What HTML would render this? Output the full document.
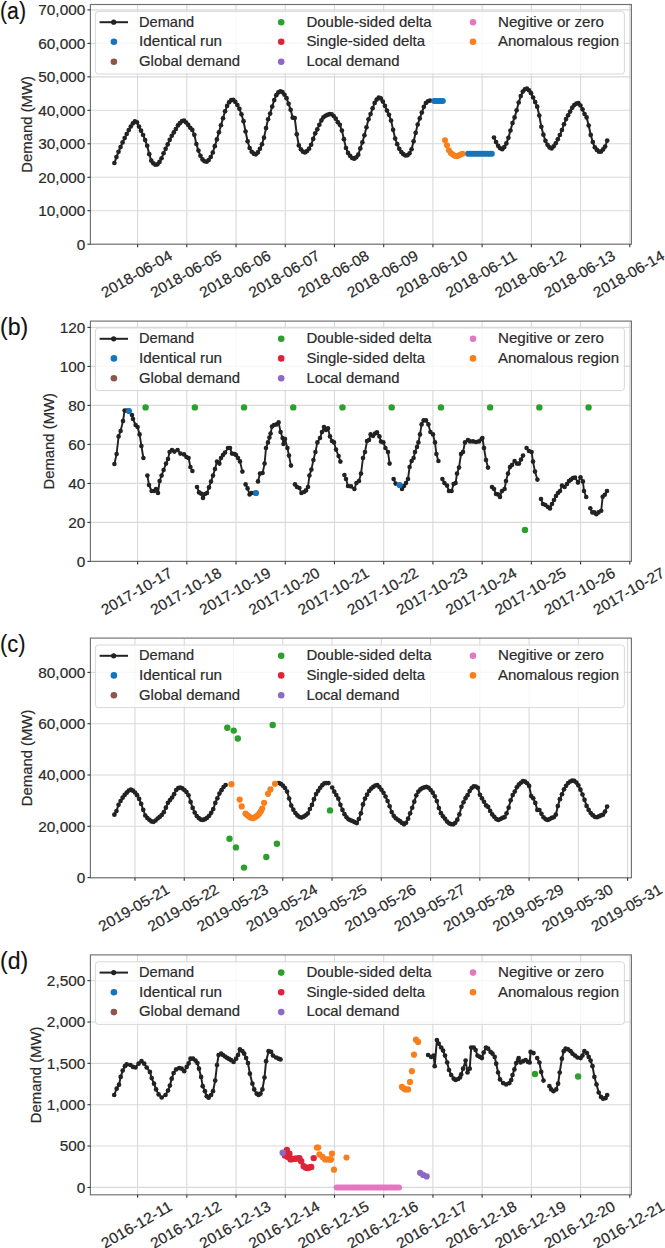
<!DOCTYPE html>
<html><head><meta charset="utf-8"><style>
html,body{margin:0;padding:0;background:#fff;overflow:hidden;width:665px;height:1248px;}
svg{display:block;}
</style></head><body>
<svg width="665" height="1248" viewBox="0 0 665 1248">
<rect width="665" height="1248" fill="#fff"/>
<g stroke="#d9d9d9" stroke-width="1.1">
<line x1="137.6" y1="4.5" x2="137.6" y2="244.2"/>
<line x1="186.82" y1="4.5" x2="186.82" y2="244.2"/>
<line x1="236.04" y1="4.5" x2="236.04" y2="244.2"/>
<line x1="285.26" y1="4.5" x2="285.26" y2="244.2"/>
<line x1="334.48" y1="4.5" x2="334.48" y2="244.2"/>
<line x1="383.7" y1="4.5" x2="383.7" y2="244.2"/>
<line x1="432.92" y1="4.5" x2="432.92" y2="244.2"/>
<line x1="482.14" y1="4.5" x2="482.14" y2="244.2"/>
<line x1="531.36" y1="4.5" x2="531.36" y2="244.2"/>
<line x1="580.58" y1="4.5" x2="580.58" y2="244.2"/>
<line x1="629.8" y1="4.5" x2="629.8" y2="244.2"/>
<line x1="90.4" y1="244.2" x2="631.4" y2="244.2"/>
<line x1="90.4" y1="210.73" x2="631.4" y2="210.73"/>
<line x1="90.4" y1="177.26" x2="631.4" y2="177.26"/>
<line x1="90.4" y1="143.79" x2="631.4" y2="143.79"/>
<line x1="90.4" y1="110.32" x2="631.4" y2="110.32"/>
<line x1="90.4" y1="76.85" x2="631.4" y2="76.85"/>
<line x1="90.4" y1="43.38" x2="631.4" y2="43.38"/>
<line x1="90.4" y1="9.91" x2="631.4" y2="9.91"/>
</g>
<polyline points="114.4,163 116.45,157.11 118.5,151.79 120.55,147.07 122.6,142.44 124.65,138.11 126.7,134 128.75,130.06 130.79,126.49 132.84,123.39 134.89,121.43 136.94,122.34 138.99,126.58 141.04,130.68 143.09,134.98 145.14,140.1 147.19,145.77 149.24,154.2 151.29,160.65 153.34,163.34 155.39,164.75 157.44,164.35 159.49,161.91 161.54,158.24 163.58,153.26 165.63,148.81 167.68,144.38 169.73,139.8 171.78,135.76 173.83,132.46 175.88,129.04 177.93,125.4 179.98,123.03 182.03,121.19 184.08,120.66 186.13,122.5 188.18,124.97 190.23,127.77 192.28,129.95 194.32,134.81 196.37,144 198.42,150.6 200.47,155.81 202.52,159.4 204.57,161.24 206.62,161.74 208.67,160.06 210.72,156.99 212.77,152.55 214.82,146.16 216.87,139.45 218.92,132.36 220.97,125.23 223.02,118.25 225.06,111.28 227.11,105.95 229.16,102.17 231.21,100.16 233.26,99.92 235.31,101.89 237.36,105 239.41,108.79 241.46,114.28 243.51,121.22 245.56,131.48 247.61,141.31 249.66,148.01 251.71,151.77 253.76,153.64 255.81,154.28 257.85,152.46 259.9,148.84 261.95,144.31 264,137.66 266.05,128.1 268.1,119.23 270.15,113.55 272.2,106.59 274.25,100.04 276.3,95.13 278.35,92.42 280.4,91.23 282.45,92.15 284.5,94.76 286.55,98.15 288.59,103.81 290.64,109.82 292.69,117.65 294.74,118.1 296.79,134.35 298.84,145.46 300.89,149.36 302.94,151.68 304.99,152.44 307.04,151.09 309.09,148.64 311.14,144.73 313.19,138.92 315.24,133.34 317.29,129.35 319.34,124.74 321.38,120.43 323.43,117.28 325.48,115.73 327.53,114.79 329.58,114.13 331.63,114.26 333.68,116.02 335.73,118.66 337.78,122.16 339.83,124.81 341.88,130.55 343.93,139.17 345.98,148.01 348.03,152.9 350.08,155.83 352.12,158.02 354.17,158.64 356.22,157.3 358.27,154.72 360.32,148.38 362.37,142.3 364.42,135.29 366.47,127.29 368.52,119.28 370.57,114.08 372.62,108.25 374.67,102.95 376.72,99.62 378.77,97.61 380.82,98.47 382.86,101.53 384.91,105.87 386.96,110.6 389.01,114.81 391.06,120.61 393.11,129.82 395.16,138.52 397.21,144.21 399.26,148.82 401.31,152.04 403.36,154.2 405.41,155.48 407.46,155.24 409.51,153.37 411.56,149.24 413.61,141.33 415.65,132.86 417.7,124.49 419.75,118.47 421.8,112.62 423.85,106.83 425.9,102.98 427.95,101.25 430,100.6" fill="none" stroke="#222222" stroke-width="2.0" stroke-linejoin="round"/>
<g fill="#222222"><circle cx="114.4" cy="163" r="2.35"/><circle cx="116.45" cy="157.11" r="2.35"/><circle cx="118.5" cy="151.79" r="2.35"/><circle cx="120.55" cy="147.07" r="2.35"/><circle cx="122.6" cy="142.44" r="2.35"/><circle cx="124.65" cy="138.11" r="2.35"/><circle cx="126.7" cy="134" r="2.35"/><circle cx="128.75" cy="130.06" r="2.35"/><circle cx="130.79" cy="126.49" r="2.35"/><circle cx="132.84" cy="123.39" r="2.35"/><circle cx="134.89" cy="121.43" r="2.35"/><circle cx="136.94" cy="122.34" r="2.35"/><circle cx="138.99" cy="126.58" r="2.35"/><circle cx="141.04" cy="130.68" r="2.35"/><circle cx="143.09" cy="134.98" r="2.35"/><circle cx="145.14" cy="140.1" r="2.35"/><circle cx="147.19" cy="145.77" r="2.35"/><circle cx="149.24" cy="154.2" r="2.35"/><circle cx="151.29" cy="160.65" r="2.35"/><circle cx="153.34" cy="163.34" r="2.35"/><circle cx="155.39" cy="164.75" r="2.35"/><circle cx="157.44" cy="164.35" r="2.35"/><circle cx="159.49" cy="161.91" r="2.35"/><circle cx="161.54" cy="158.24" r="2.35"/><circle cx="163.58" cy="153.26" r="2.35"/><circle cx="165.63" cy="148.81" r="2.35"/><circle cx="167.68" cy="144.38" r="2.35"/><circle cx="169.73" cy="139.8" r="2.35"/><circle cx="171.78" cy="135.76" r="2.35"/><circle cx="173.83" cy="132.46" r="2.35"/><circle cx="175.88" cy="129.04" r="2.35"/><circle cx="177.93" cy="125.4" r="2.35"/><circle cx="179.98" cy="123.03" r="2.35"/><circle cx="182.03" cy="121.19" r="2.35"/><circle cx="184.08" cy="120.66" r="2.35"/><circle cx="186.13" cy="122.5" r="2.35"/><circle cx="188.18" cy="124.97" r="2.35"/><circle cx="190.23" cy="127.77" r="2.35"/><circle cx="192.28" cy="129.95" r="2.35"/><circle cx="194.32" cy="134.81" r="2.35"/><circle cx="196.37" cy="144" r="2.35"/><circle cx="198.42" cy="150.6" r="2.35"/><circle cx="200.47" cy="155.81" r="2.35"/><circle cx="202.52" cy="159.4" r="2.35"/><circle cx="204.57" cy="161.24" r="2.35"/><circle cx="206.62" cy="161.74" r="2.35"/><circle cx="208.67" cy="160.06" r="2.35"/><circle cx="210.72" cy="156.99" r="2.35"/><circle cx="212.77" cy="152.55" r="2.35"/><circle cx="214.82" cy="146.16" r="2.35"/><circle cx="216.87" cy="139.45" r="2.35"/><circle cx="218.92" cy="132.36" r="2.35"/><circle cx="220.97" cy="125.23" r="2.35"/><circle cx="223.02" cy="118.25" r="2.35"/><circle cx="225.06" cy="111.28" r="2.35"/><circle cx="227.11" cy="105.95" r="2.35"/><circle cx="229.16" cy="102.17" r="2.35"/><circle cx="231.21" cy="100.16" r="2.35"/><circle cx="233.26" cy="99.92" r="2.35"/><circle cx="235.31" cy="101.89" r="2.35"/><circle cx="237.36" cy="105" r="2.35"/><circle cx="239.41" cy="108.79" r="2.35"/><circle cx="241.46" cy="114.28" r="2.35"/><circle cx="243.51" cy="121.22" r="2.35"/><circle cx="245.56" cy="131.48" r="2.35"/><circle cx="247.61" cy="141.31" r="2.35"/><circle cx="249.66" cy="148.01" r="2.35"/><circle cx="251.71" cy="151.77" r="2.35"/><circle cx="253.76" cy="153.64" r="2.35"/><circle cx="255.81" cy="154.28" r="2.35"/><circle cx="257.85" cy="152.46" r="2.35"/><circle cx="259.9" cy="148.84" r="2.35"/><circle cx="261.95" cy="144.31" r="2.35"/><circle cx="264" cy="137.66" r="2.35"/><circle cx="266.05" cy="128.1" r="2.35"/><circle cx="268.1" cy="119.23" r="2.35"/><circle cx="270.15" cy="113.55" r="2.35"/><circle cx="272.2" cy="106.59" r="2.35"/><circle cx="274.25" cy="100.04" r="2.35"/><circle cx="276.3" cy="95.13" r="2.35"/><circle cx="278.35" cy="92.42" r="2.35"/><circle cx="280.4" cy="91.23" r="2.35"/><circle cx="282.45" cy="92.15" r="2.35"/><circle cx="284.5" cy="94.76" r="2.35"/><circle cx="286.55" cy="98.15" r="2.35"/><circle cx="288.59" cy="103.81" r="2.35"/><circle cx="290.64" cy="109.82" r="2.35"/><circle cx="292.69" cy="117.65" r="2.35"/><circle cx="294.74" cy="118.1" r="2.35"/><circle cx="296.79" cy="134.35" r="2.35"/><circle cx="298.84" cy="145.46" r="2.35"/><circle cx="300.89" cy="149.36" r="2.35"/><circle cx="302.94" cy="151.68" r="2.35"/><circle cx="304.99" cy="152.44" r="2.35"/><circle cx="307.04" cy="151.09" r="2.35"/><circle cx="309.09" cy="148.64" r="2.35"/><circle cx="311.14" cy="144.73" r="2.35"/><circle cx="313.19" cy="138.92" r="2.35"/><circle cx="315.24" cy="133.34" r="2.35"/><circle cx="317.29" cy="129.35" r="2.35"/><circle cx="319.34" cy="124.74" r="2.35"/><circle cx="321.38" cy="120.43" r="2.35"/><circle cx="323.43" cy="117.28" r="2.35"/><circle cx="325.48" cy="115.73" r="2.35"/><circle cx="327.53" cy="114.79" r="2.35"/><circle cx="329.58" cy="114.13" r="2.35"/><circle cx="331.63" cy="114.26" r="2.35"/><circle cx="333.68" cy="116.02" r="2.35"/><circle cx="335.73" cy="118.66" r="2.35"/><circle cx="337.78" cy="122.16" r="2.35"/><circle cx="339.83" cy="124.81" r="2.35"/><circle cx="341.88" cy="130.55" r="2.35"/><circle cx="343.93" cy="139.17" r="2.35"/><circle cx="345.98" cy="148.01" r="2.35"/><circle cx="348.03" cy="152.9" r="2.35"/><circle cx="350.08" cy="155.83" r="2.35"/><circle cx="352.12" cy="158.02" r="2.35"/><circle cx="354.17" cy="158.64" r="2.35"/><circle cx="356.22" cy="157.3" r="2.35"/><circle cx="358.27" cy="154.72" r="2.35"/><circle cx="360.32" cy="148.38" r="2.35"/><circle cx="362.37" cy="142.3" r="2.35"/><circle cx="364.42" cy="135.29" r="2.35"/><circle cx="366.47" cy="127.29" r="2.35"/><circle cx="368.52" cy="119.28" r="2.35"/><circle cx="370.57" cy="114.08" r="2.35"/><circle cx="372.62" cy="108.25" r="2.35"/><circle cx="374.67" cy="102.95" r="2.35"/><circle cx="376.72" cy="99.62" r="2.35"/><circle cx="378.77" cy="97.61" r="2.35"/><circle cx="380.82" cy="98.47" r="2.35"/><circle cx="382.86" cy="101.53" r="2.35"/><circle cx="384.91" cy="105.87" r="2.35"/><circle cx="386.96" cy="110.6" r="2.35"/><circle cx="389.01" cy="114.81" r="2.35"/><circle cx="391.06" cy="120.61" r="2.35"/><circle cx="393.11" cy="129.82" r="2.35"/><circle cx="395.16" cy="138.52" r="2.35"/><circle cx="397.21" cy="144.21" r="2.35"/><circle cx="399.26" cy="148.82" r="2.35"/><circle cx="401.31" cy="152.04" r="2.35"/><circle cx="403.36" cy="154.2" r="2.35"/><circle cx="405.41" cy="155.48" r="2.35"/><circle cx="407.46" cy="155.24" r="2.35"/><circle cx="409.51" cy="153.37" r="2.35"/><circle cx="411.56" cy="149.24" r="2.35"/><circle cx="413.61" cy="141.33" r="2.35"/><circle cx="415.65" cy="132.86" r="2.35"/><circle cx="417.7" cy="124.49" r="2.35"/><circle cx="419.75" cy="118.47" r="2.35"/><circle cx="421.8" cy="112.62" r="2.35"/><circle cx="423.85" cy="106.83" r="2.35"/><circle cx="425.9" cy="102.98" r="2.35"/><circle cx="427.95" cy="101.25" r="2.35"/><circle cx="430" cy="100.6" r="2.35"/></g>
<polyline points="494,137.5 496.06,142.11 498.12,145.79 500.17,148.27 502.23,149.25 504.29,147.1 506.35,143.42 508.41,137.82 510.47,130.49 512.52,123.03 514.58,117.44 516.64,110.37 518.7,102.51 520.76,96.12 522.81,91.58 524.87,89.32 526.93,88.54 528.99,90.29 531.05,93.2 533.11,97.51 535.16,102.1 537.22,106.7 539.28,115.59 541.34,126.83 543.4,134.71 545.45,140.87 547.51,144.8 549.57,147.44 551.63,148.41 553.69,146.3 555.75,143.25 557.8,139.3 559.86,135.01 561.92,130.01 563.98,124.26 566.04,119.05 568.09,115.34 570.15,111.57 572.21,107.63 574.27,105.1 576.33,103.66 578.39,103.15 580.44,105.52 582.5,109.29 584.56,114 586.62,117.44 588.68,125.5 590.73,134.94 592.79,142.08 594.85,147.28 596.91,149.94 598.97,151.65 601.03,151.54 603.08,149.44 605.14,146.53 607.2,140.6" fill="none" stroke="#222222" stroke-width="2.0" stroke-linejoin="round"/>
<g fill="#222222"><circle cx="494" cy="137.5" r="2.35"/><circle cx="496.06" cy="142.11" r="2.35"/><circle cx="498.12" cy="145.79" r="2.35"/><circle cx="500.17" cy="148.27" r="2.35"/><circle cx="502.23" cy="149.25" r="2.35"/><circle cx="504.29" cy="147.1" r="2.35"/><circle cx="506.35" cy="143.42" r="2.35"/><circle cx="508.41" cy="137.82" r="2.35"/><circle cx="510.47" cy="130.49" r="2.35"/><circle cx="512.52" cy="123.03" r="2.35"/><circle cx="514.58" cy="117.44" r="2.35"/><circle cx="516.64" cy="110.37" r="2.35"/><circle cx="518.7" cy="102.51" r="2.35"/><circle cx="520.76" cy="96.12" r="2.35"/><circle cx="522.81" cy="91.58" r="2.35"/><circle cx="524.87" cy="89.32" r="2.35"/><circle cx="526.93" cy="88.54" r="2.35"/><circle cx="528.99" cy="90.29" r="2.35"/><circle cx="531.05" cy="93.2" r="2.35"/><circle cx="533.11" cy="97.51" r="2.35"/><circle cx="535.16" cy="102.1" r="2.35"/><circle cx="537.22" cy="106.7" r="2.35"/><circle cx="539.28" cy="115.59" r="2.35"/><circle cx="541.34" cy="126.83" r="2.35"/><circle cx="543.4" cy="134.71" r="2.35"/><circle cx="545.45" cy="140.87" r="2.35"/><circle cx="547.51" cy="144.8" r="2.35"/><circle cx="549.57" cy="147.44" r="2.35"/><circle cx="551.63" cy="148.41" r="2.35"/><circle cx="553.69" cy="146.3" r="2.35"/><circle cx="555.75" cy="143.25" r="2.35"/><circle cx="557.8" cy="139.3" r="2.35"/><circle cx="559.86" cy="135.01" r="2.35"/><circle cx="561.92" cy="130.01" r="2.35"/><circle cx="563.98" cy="124.26" r="2.35"/><circle cx="566.04" cy="119.05" r="2.35"/><circle cx="568.09" cy="115.34" r="2.35"/><circle cx="570.15" cy="111.57" r="2.35"/><circle cx="572.21" cy="107.63" r="2.35"/><circle cx="574.27" cy="105.1" r="2.35"/><circle cx="576.33" cy="103.66" r="2.35"/><circle cx="578.39" cy="103.15" r="2.35"/><circle cx="580.44" cy="105.52" r="2.35"/><circle cx="582.5" cy="109.29" r="2.35"/><circle cx="584.56" cy="114" r="2.35"/><circle cx="586.62" cy="117.44" r="2.35"/><circle cx="588.68" cy="125.5" r="2.35"/><circle cx="590.73" cy="134.94" r="2.35"/><circle cx="592.79" cy="142.08" r="2.35"/><circle cx="594.85" cy="147.28" r="2.35"/><circle cx="596.91" cy="149.94" r="2.35"/><circle cx="598.97" cy="151.65" r="2.35"/><circle cx="601.03" cy="151.54" r="2.35"/><circle cx="603.08" cy="149.44" r="2.35"/><circle cx="605.14" cy="146.53" r="2.35"/><circle cx="607.2" cy="140.6" r="2.35"/></g>
<g fill="#1474bc"><circle cx="434.2" cy="101" r="3.0"/><circle cx="436.35" cy="101" r="3.0"/><circle cx="438.5" cy="101" r="3.0"/><circle cx="440.65" cy="101" r="3.0"/><circle cx="442.8" cy="101" r="3.0"/></g>
<g fill="#1474bc"><circle cx="468" cy="153.8" r="3.0"/><circle cx="470.16" cy="153.8" r="3.0"/><circle cx="472.33" cy="153.8" r="3.0"/><circle cx="474.49" cy="153.8" r="3.0"/><circle cx="476.65" cy="153.8" r="3.0"/><circle cx="478.82" cy="153.8" r="3.0"/><circle cx="480.98" cy="153.8" r="3.0"/><circle cx="483.15" cy="153.8" r="3.0"/><circle cx="485.31" cy="153.8" r="3.0"/><circle cx="487.47" cy="153.8" r="3.0"/><circle cx="489.64" cy="153.8" r="3.0"/><circle cx="491.8" cy="153.8" r="3.0"/></g>
<g fill="#f97f1c"><circle cx="445" cy="140.3" r="3.0"/><circle cx="446.94" cy="145.16" r="3.0"/><circle cx="448.89" cy="150.26" r="3.0"/><circle cx="450.83" cy="153.02" r="3.0"/><circle cx="452.78" cy="154.57" r="3.0"/><circle cx="454.72" cy="155.64" r="3.0"/><circle cx="456.67" cy="156.19" r="3.0"/><circle cx="458.61" cy="155.5" r="3.0"/><circle cx="460.56" cy="154.53" r="3.0"/><circle cx="462.5" cy="153.7" r="3.0"/></g>
<rect x="95.4" y="11.4" width="529" height="62.6" rx="3" ry="3" fill="#fff" fill-opacity="0.8" stroke="#d8d8d8" stroke-width="1"/>
<line x1="99.6" y1="22.2" x2="128" y2="22.2" stroke="#222222" stroke-width="2.0"/>
<circle cx="113.7" cy="22.2" r="2.6" fill="#222222"/>
<circle cx="113.9" cy="41.8" r="3.3" fill="#1474bc"/>
<circle cx="113.9" cy="61.7" r="3.3" fill="#8c564b"/>
<circle cx="281.2" cy="22.2" r="3.3" fill="#2ca02c"/>
<circle cx="281.2" cy="41.8" r="3.3" fill="#dc2438"/>
<circle cx="281.2" cy="61.7" r="3.3" fill="#8d68c4"/>
<circle cx="473" cy="22.2" r="3.3" fill="#e377c2"/>
<circle cx="473" cy="41.8" r="3.3" fill="#f97f1c"/>
<g font-family='"Liberation Sans", sans-serif' font-size="15" stroke="#2a2a2a" stroke-width="0.2" fill="#2a2a2a">
<text x="139" y="26.5" textLength="55.2" lengthAdjust="spacingAndGlyphs">Demand</text>
<text x="139" y="46.1" textLength="83.1" lengthAdjust="spacingAndGlyphs">Identical run</text>
<text x="139" y="66" textLength="101" lengthAdjust="spacingAndGlyphs">Global demand</text>
<text x="306.4" y="26.5" textLength="125.2" lengthAdjust="spacingAndGlyphs">Double-sided delta</text>
<text x="306.4" y="46.1" textLength="118.6" lengthAdjust="spacingAndGlyphs">Single-sided delta</text>
<text x="306.4" y="66" textLength="93.2" lengthAdjust="spacingAndGlyphs">Local demand</text>
<text x="498" y="26.5" textLength="106" lengthAdjust="spacingAndGlyphs">Negitive or zero</text>
<text x="498" y="46.1" textLength="121" lengthAdjust="spacingAndGlyphs">Anomalous region</text>
</g>
<rect x="90.4" y="4.5" width="541" height="239.7" fill="none" stroke="#707070" stroke-width="1.15"/>
<g stroke="#333" stroke-width="1.1">
<line x1="137.6" y1="244.2" x2="137.6" y2="247.2"/>
<line x1="186.82" y1="244.2" x2="186.82" y2="247.2"/>
<line x1="236.04" y1="244.2" x2="236.04" y2="247.2"/>
<line x1="285.26" y1="244.2" x2="285.26" y2="247.2"/>
<line x1="334.48" y1="244.2" x2="334.48" y2="247.2"/>
<line x1="383.7" y1="244.2" x2="383.7" y2="247.2"/>
<line x1="432.92" y1="244.2" x2="432.92" y2="247.2"/>
<line x1="482.14" y1="244.2" x2="482.14" y2="247.2"/>
<line x1="531.36" y1="244.2" x2="531.36" y2="247.2"/>
<line x1="580.58" y1="244.2" x2="580.58" y2="247.2"/>
<line x1="629.8" y1="244.2" x2="629.8" y2="247.2"/>
<line x1="87.4" y1="244.2" x2="90.4" y2="244.2"/>
<line x1="87.4" y1="210.73" x2="90.4" y2="210.73"/>
<line x1="87.4" y1="177.26" x2="90.4" y2="177.26"/>
<line x1="87.4" y1="143.79" x2="90.4" y2="143.79"/>
<line x1="87.4" y1="110.32" x2="90.4" y2="110.32"/>
<line x1="87.4" y1="76.85" x2="90.4" y2="76.85"/>
<line x1="87.4" y1="43.38" x2="90.4" y2="43.38"/>
<line x1="87.4" y1="9.91" x2="90.4" y2="9.91"/>
</g>
<g font-family='"Liberation Sans", sans-serif' font-size="15" stroke="#2a2a2a" stroke-width="0.2" fill="#2a2a2a">
<text x="85.3" y="249.5" text-anchor="end" textLength="8.55" lengthAdjust="spacingAndGlyphs">0</text>
<text x="85.3" y="216.03" text-anchor="end" textLength="47.01" lengthAdjust="spacingAndGlyphs">10,000</text>
<text x="85.3" y="182.56" text-anchor="end" textLength="47.01" lengthAdjust="spacingAndGlyphs">20,000</text>
<text x="85.3" y="149.09" text-anchor="end" textLength="47.01" lengthAdjust="spacingAndGlyphs">30,000</text>
<text x="85.3" y="115.62" text-anchor="end" textLength="47.01" lengthAdjust="spacingAndGlyphs">40,000</text>
<text x="85.3" y="82.15" text-anchor="end" textLength="47.01" lengthAdjust="spacingAndGlyphs">50,000</text>
<text x="85.3" y="48.68" text-anchor="end" textLength="47.01" lengthAdjust="spacingAndGlyphs">60,000</text>
<text x="85.3" y="15.21" text-anchor="end" textLength="47.01" lengthAdjust="spacingAndGlyphs">70,000</text>
<text transform="translate(173.4,258.8) rotate(-30)" text-anchor="end" textLength="79.09" lengthAdjust="spacingAndGlyphs">2018-06-04</text>
<text transform="translate(222.62,258.8) rotate(-30)" text-anchor="end" textLength="79.09" lengthAdjust="spacingAndGlyphs">2018-06-05</text>
<text transform="translate(271.84,258.8) rotate(-30)" text-anchor="end" textLength="79.09" lengthAdjust="spacingAndGlyphs">2018-06-06</text>
<text transform="translate(321.06,258.8) rotate(-30)" text-anchor="end" textLength="79.09" lengthAdjust="spacingAndGlyphs">2018-06-07</text>
<text transform="translate(370.28,258.8) rotate(-30)" text-anchor="end" textLength="79.09" lengthAdjust="spacingAndGlyphs">2018-06-08</text>
<text transform="translate(419.5,258.8) rotate(-30)" text-anchor="end" textLength="79.09" lengthAdjust="spacingAndGlyphs">2018-06-09</text>
<text transform="translate(468.72,258.8) rotate(-30)" text-anchor="end" textLength="79.09" lengthAdjust="spacingAndGlyphs">2018-06-10</text>
<text transform="translate(517.94,258.8) rotate(-30)" text-anchor="end" textLength="79.09" lengthAdjust="spacingAndGlyphs">2018-06-11</text>
<text transform="translate(567.16,258.8) rotate(-30)" text-anchor="end" textLength="79.09" lengthAdjust="spacingAndGlyphs">2018-06-12</text>
<text transform="translate(616.38,258.8) rotate(-30)" text-anchor="end" textLength="79.09" lengthAdjust="spacingAndGlyphs">2018-06-13</text>
<text transform="translate(665.6,258.8) rotate(-30)" text-anchor="end" textLength="79.09" lengthAdjust="spacingAndGlyphs">2018-06-14</text>
</g>
<text transform="translate(32.2,124.35) rotate(-90)" text-anchor="middle" font-family='"Liberation Sans", sans-serif' font-size="15" stroke="#2a2a2a" stroke-width="0.2" fill="#2a2a2a" textLength="96.6" lengthAdjust="spacingAndGlyphs">Demand (MW)</text>
<text x="0" y="18.6" font-family='"Liberation Sans", sans-serif' font-size="23" fill="#111" stroke="#111" stroke-width="0.15" textLength="26" lengthAdjust="spacingAndGlyphs">(a)</text>
<g stroke="#d9d9d9" stroke-width="1.1">
<line x1="137.6" y1="321.1" x2="137.6" y2="561.4"/>
<line x1="186.82" y1="321.1" x2="186.82" y2="561.4"/>
<line x1="236.04" y1="321.1" x2="236.04" y2="561.4"/>
<line x1="285.26" y1="321.1" x2="285.26" y2="561.4"/>
<line x1="334.48" y1="321.1" x2="334.48" y2="561.4"/>
<line x1="383.7" y1="321.1" x2="383.7" y2="561.4"/>
<line x1="432.92" y1="321.1" x2="432.92" y2="561.4"/>
<line x1="482.14" y1="321.1" x2="482.14" y2="561.4"/>
<line x1="531.36" y1="321.1" x2="531.36" y2="561.4"/>
<line x1="580.58" y1="321.1" x2="580.58" y2="561.4"/>
<line x1="629.8" y1="321.1" x2="629.8" y2="561.4"/>
<line x1="90.4" y1="561.4" x2="631.4" y2="561.4"/>
<line x1="90.4" y1="522.4" x2="631.4" y2="522.4"/>
<line x1="90.4" y1="483.4" x2="631.4" y2="483.4"/>
<line x1="90.4" y1="444.4" x2="631.4" y2="444.4"/>
<line x1="90.4" y1="405.4" x2="631.4" y2="405.4"/>
<line x1="90.4" y1="366.4" x2="631.4" y2="366.4"/>
<line x1="90.4" y1="327.4" x2="631.4" y2="327.4"/>
</g>
<polyline points="114.4,464 116.6,454 118.6,436.4 120.6,431 123,421 124.6,410.6 127,410.5 132,415 133,419 135.6,425 137.6,427 139.6,434.4 141.4,446 143.4,458" fill="none" stroke="#222222" stroke-width="1.9" stroke-linejoin="round"/>
<g fill="#222222"><circle cx="114.4" cy="464" r="2.3"/><circle cx="116.6" cy="454" r="2.3"/><circle cx="118.6" cy="436.4" r="2.3"/><circle cx="120.6" cy="431" r="2.3"/><circle cx="123" cy="421" r="2.3"/><circle cx="124.6" cy="410.6" r="2.3"/><circle cx="127" cy="410.5" r="2.3"/><circle cx="132" cy="415" r="2.3"/><circle cx="133" cy="419" r="2.3"/><circle cx="135.6" cy="425" r="2.3"/><circle cx="137.6" cy="427" r="2.3"/><circle cx="139.6" cy="434.4" r="2.3"/><circle cx="141.4" cy="446" r="2.3"/><circle cx="143.4" cy="458" r="2.3"/></g>
<polyline points="147.4,475.6 149,485 151.6,491 154,491 156,489 158,493 159.6,481 161.6,475.6 163.6,470 166,463.6 168,459 169.6,452 172,450 174.4,451.6 177.6,450 180.4,453.6 184,454.4 186.4,457 188.6,458 190.4,467 192.4,471" fill="none" stroke="#222222" stroke-width="1.9" stroke-linejoin="round"/>
<g fill="#222222"><circle cx="147.4" cy="475.6" r="2.3"/><circle cx="149" cy="485" r="2.3"/><circle cx="151.6" cy="491" r="2.3"/><circle cx="154" cy="491" r="2.3"/><circle cx="156" cy="489" r="2.3"/><circle cx="158" cy="493" r="2.3"/><circle cx="159.6" cy="481" r="2.3"/><circle cx="161.6" cy="475.6" r="2.3"/><circle cx="163.6" cy="470" r="2.3"/><circle cx="166" cy="463.6" r="2.3"/><circle cx="168" cy="459" r="2.3"/><circle cx="169.6" cy="452" r="2.3"/><circle cx="172" cy="450" r="2.3"/><circle cx="174.4" cy="451.6" r="2.3"/><circle cx="177.6" cy="450" r="2.3"/><circle cx="180.4" cy="453.6" r="2.3"/><circle cx="184" cy="454.4" r="2.3"/><circle cx="186.4" cy="457" r="2.3"/><circle cx="188.6" cy="458" r="2.3"/><circle cx="190.4" cy="467" r="2.3"/><circle cx="192.4" cy="471" r="2.3"/></g>
<polyline points="197,487 199,492.4 201,493.6 203,498 205,494 207,493 209,487.4 211,481.6 213,475.6 215,469 217,461.6 219.4,463.6 221,458 223,455 225,452.6 228,448 230,448 232,453.6 234.6,454 236,455 238,458 240,461.4 242.4,471.6" fill="none" stroke="#222222" stroke-width="1.9" stroke-linejoin="round"/>
<g fill="#222222"><circle cx="197" cy="487" r="2.3"/><circle cx="199" cy="492.4" r="2.3"/><circle cx="201" cy="493.6" r="2.3"/><circle cx="203" cy="498" r="2.3"/><circle cx="205" cy="494" r="2.3"/><circle cx="207" cy="493" r="2.3"/><circle cx="209" cy="487.4" r="2.3"/><circle cx="211" cy="481.6" r="2.3"/><circle cx="213" cy="475.6" r="2.3"/><circle cx="215" cy="469" r="2.3"/><circle cx="217" cy="461.6" r="2.3"/><circle cx="219.4" cy="463.6" r="2.3"/><circle cx="221" cy="458" r="2.3"/><circle cx="223" cy="455" r="2.3"/><circle cx="225" cy="452.6" r="2.3"/><circle cx="228" cy="448" r="2.3"/><circle cx="230" cy="448" r="2.3"/><circle cx="232" cy="453.6" r="2.3"/><circle cx="234.6" cy="454" r="2.3"/><circle cx="236" cy="455" r="2.3"/><circle cx="238" cy="458" r="2.3"/><circle cx="240" cy="461.4" r="2.3"/><circle cx="242.4" cy="471.6" r="2.3"/></g>
<polyline points="245.6,484.4 247.6,488.4 249.6,494.4 251.6,493 254,493" fill="none" stroke="#222222" stroke-width="1.9" stroke-linejoin="round"/>
<g fill="#222222"><circle cx="245.6" cy="484.4" r="2.3"/><circle cx="247.6" cy="488.4" r="2.3"/><circle cx="249.6" cy="494.4" r="2.3"/><circle cx="251.6" cy="493" r="2.3"/><circle cx="254" cy="493" r="2.3"/></g>
<polyline points="258,481.4 260,473.6 262.6,473 264.6,463.6 266,448 268,442.4 269.4,437.6 270.6,433.6 272,426.6 274,425 276.6,424.4 278.6,422.4 280.6,432 282.6,438 283.5,444 285,439 287.4,448 289,455.6 291,465.6" fill="none" stroke="#222222" stroke-width="1.9" stroke-linejoin="round"/>
<g fill="#222222"><circle cx="258" cy="481.4" r="2.3"/><circle cx="260" cy="473.6" r="2.3"/><circle cx="262.6" cy="473" r="2.3"/><circle cx="264.6" cy="463.6" r="2.3"/><circle cx="266" cy="448" r="2.3"/><circle cx="268" cy="442.4" r="2.3"/><circle cx="269.4" cy="437.6" r="2.3"/><circle cx="270.6" cy="433.6" r="2.3"/><circle cx="272" cy="426.6" r="2.3"/><circle cx="274" cy="425" r="2.3"/><circle cx="276.6" cy="424.4" r="2.3"/><circle cx="278.6" cy="422.4" r="2.3"/><circle cx="280.6" cy="432" r="2.3"/><circle cx="282.6" cy="438" r="2.3"/><circle cx="283.5" cy="444" r="2.3"/><circle cx="285" cy="439" r="2.3"/><circle cx="287.4" cy="448" r="2.3"/><circle cx="289" cy="455.6" r="2.3"/><circle cx="291" cy="465.6" r="2.3"/></g>
<polyline points="295,484.4 297,487 299.4,488 301.4,493 304,492 306,490.4 308,487 309.4,475.6 311.4,469.6 313.4,460 315.4,452 317.4,442.4 320,438 322,432 324,427 326,430 328,428.4 330,436.4 332,441 334,442.4 336,449.6 338.6,456 340.4,461.6" fill="none" stroke="#222222" stroke-width="1.9" stroke-linejoin="round"/>
<g fill="#222222"><circle cx="295" cy="484.4" r="2.3"/><circle cx="297" cy="487" r="2.3"/><circle cx="299.4" cy="488" r="2.3"/><circle cx="301.4" cy="493" r="2.3"/><circle cx="304" cy="492" r="2.3"/><circle cx="306" cy="490.4" r="2.3"/><circle cx="308" cy="487" r="2.3"/><circle cx="309.4" cy="475.6" r="2.3"/><circle cx="311.4" cy="469.6" r="2.3"/><circle cx="313.4" cy="460" r="2.3"/><circle cx="315.4" cy="452" r="2.3"/><circle cx="317.4" cy="442.4" r="2.3"/><circle cx="320" cy="438" r="2.3"/><circle cx="322" cy="432" r="2.3"/><circle cx="324" cy="427" r="2.3"/><circle cx="326" cy="430" r="2.3"/><circle cx="328" cy="428.4" r="2.3"/><circle cx="330" cy="436.4" r="2.3"/><circle cx="332" cy="441" r="2.3"/><circle cx="334" cy="442.4" r="2.3"/><circle cx="336" cy="449.6" r="2.3"/><circle cx="338.6" cy="456" r="2.3"/><circle cx="340.4" cy="461.6" r="2.3"/></g>
<polyline points="344.4,475 346,479 348,486 351,486.4 354.4,489 356.4,483 359,481 361,473.6 363,458 365,452 367,441 369,440 370.6,434.4 373,436 375,433.6 377,432.4 379.4,436.4 381,441.6 383.4,442.4 385.4,448 388,452 389.6,463.6" fill="none" stroke="#222222" stroke-width="1.9" stroke-linejoin="round"/>
<g fill="#222222"><circle cx="344.4" cy="475" r="2.3"/><circle cx="346" cy="479" r="2.3"/><circle cx="348" cy="486" r="2.3"/><circle cx="351" cy="486.4" r="2.3"/><circle cx="354.4" cy="489" r="2.3"/><circle cx="356.4" cy="483" r="2.3"/><circle cx="359" cy="481" r="2.3"/><circle cx="361" cy="473.6" r="2.3"/><circle cx="363" cy="458" r="2.3"/><circle cx="365" cy="452" r="2.3"/><circle cx="367" cy="441" r="2.3"/><circle cx="369" cy="440" r="2.3"/><circle cx="370.6" cy="434.4" r="2.3"/><circle cx="373" cy="436" r="2.3"/><circle cx="375" cy="433.6" r="2.3"/><circle cx="377" cy="432.4" r="2.3"/><circle cx="379.4" cy="436.4" r="2.3"/><circle cx="381" cy="441.6" r="2.3"/><circle cx="383.4" cy="442.4" r="2.3"/><circle cx="385.4" cy="448" r="2.3"/><circle cx="388" cy="452" r="2.3"/><circle cx="389.6" cy="463.6" r="2.3"/></g>
<polyline points="393.6,479 395.6,483.6 399.6,485 402,489 404,486 406,483 408,479 409.6,467 411.6,461 413.6,458 415,452 417,447 418.4,442.4 420,434.4 421.6,424.4 423.6,420.4 426,420.4 428.4,424.4 430.4,432 433,434.4 435,442.4 436.4,454 438.4,461" fill="none" stroke="#222222" stroke-width="1.9" stroke-linejoin="round"/>
<g fill="#222222"><circle cx="393.6" cy="479" r="2.3"/><circle cx="395.6" cy="483.6" r="2.3"/><circle cx="399.6" cy="485" r="2.3"/><circle cx="402" cy="489" r="2.3"/><circle cx="404" cy="486" r="2.3"/><circle cx="406" cy="483" r="2.3"/><circle cx="408" cy="479" r="2.3"/><circle cx="409.6" cy="467" r="2.3"/><circle cx="411.6" cy="461" r="2.3"/><circle cx="413.6" cy="458" r="2.3"/><circle cx="415" cy="452" r="2.3"/><circle cx="417" cy="447" r="2.3"/><circle cx="418.4" cy="442.4" r="2.3"/><circle cx="420" cy="434.4" r="2.3"/><circle cx="421.6" cy="424.4" r="2.3"/><circle cx="423.6" cy="420.4" r="2.3"/><circle cx="426" cy="420.4" r="2.3"/><circle cx="428.4" cy="424.4" r="2.3"/><circle cx="430.4" cy="432" r="2.3"/><circle cx="433" cy="434.4" r="2.3"/><circle cx="435" cy="442.4" r="2.3"/><circle cx="436.4" cy="454" r="2.3"/><circle cx="438.4" cy="461" r="2.3"/></g>
<polyline points="442.4,479 444.4,483 447,485.6 449,491 451.6,491 453.6,484 455.6,483 457,473.6 459,467.6 461,454 463,452 465,442.4 468,440 470,441.4 473,441.4 476,442 479,441.4 481.6,439 482.4,438 484,448 486,460 488,467.6" fill="none" stroke="#222222" stroke-width="1.9" stroke-linejoin="round"/>
<g fill="#222222"><circle cx="442.4" cy="479" r="2.3"/><circle cx="444.4" cy="483" r="2.3"/><circle cx="447" cy="485.6" r="2.3"/><circle cx="449" cy="491" r="2.3"/><circle cx="451.6" cy="491" r="2.3"/><circle cx="453.6" cy="484" r="2.3"/><circle cx="455.6" cy="483" r="2.3"/><circle cx="457" cy="473.6" r="2.3"/><circle cx="459" cy="467.6" r="2.3"/><circle cx="461" cy="454" r="2.3"/><circle cx="463" cy="452" r="2.3"/><circle cx="465" cy="442.4" r="2.3"/><circle cx="468" cy="440" r="2.3"/><circle cx="470" cy="441.4" r="2.3"/><circle cx="473" cy="441.4" r="2.3"/><circle cx="476" cy="442" r="2.3"/><circle cx="479" cy="441.4" r="2.3"/><circle cx="481.6" cy="439" r="2.3"/><circle cx="482.4" cy="438" r="2.3"/><circle cx="484" cy="448" r="2.3"/><circle cx="486" cy="460" r="2.3"/><circle cx="488" cy="467.6" r="2.3"/></g>
<polyline points="492,487 494,489 496,494 498,494.4 500,497 502,491 504.6,489 506,481 508,473.6 510,467 512,465 514.6,461 517,463.6 519,463.6 521,459.6 523,455.6" fill="none" stroke="#222222" stroke-width="1.9" stroke-linejoin="round"/>
<g fill="#222222"><circle cx="492" cy="487" r="2.3"/><circle cx="494" cy="489" r="2.3"/><circle cx="496" cy="494" r="2.3"/><circle cx="498" cy="494.4" r="2.3"/><circle cx="500" cy="497" r="2.3"/><circle cx="502" cy="491" r="2.3"/><circle cx="504.6" cy="489" r="2.3"/><circle cx="506" cy="481" r="2.3"/><circle cx="508" cy="473.6" r="2.3"/><circle cx="510" cy="467" r="2.3"/><circle cx="512" cy="465" r="2.3"/><circle cx="514.6" cy="461" r="2.3"/><circle cx="517" cy="463.6" r="2.3"/><circle cx="519" cy="463.6" r="2.3"/><circle cx="521" cy="459.6" r="2.3"/><circle cx="523" cy="455.6" r="2.3"/></g>
<polyline points="526.6,448 529,451 531.6,452 533,461.6 535,471.6 537.4,479.6" fill="none" stroke="#222222" stroke-width="1.9" stroke-linejoin="round"/>
<g fill="#222222"><circle cx="526.6" cy="448" r="2.3"/><circle cx="529" cy="451" r="2.3"/><circle cx="531.6" cy="452" r="2.3"/><circle cx="533" cy="461.6" r="2.3"/><circle cx="535" cy="471.6" r="2.3"/><circle cx="537.4" cy="479.6" r="2.3"/></g>
<polyline points="541,499 543,504 545.4,505 548,507 550,508.4 552,504 554,500 556,496 558,493 560,491 562,485.6 564.6,487 567,484 569,481 571,479.6 573,478 575,477.6 578,482.6 580.5,477.2 582.9,481.4 584,491 586.2,497" fill="none" stroke="#222222" stroke-width="1.9" stroke-linejoin="round"/>
<g fill="#222222"><circle cx="541" cy="499" r="2.3"/><circle cx="543" cy="504" r="2.3"/><circle cx="545.4" cy="505" r="2.3"/><circle cx="548" cy="507" r="2.3"/><circle cx="550" cy="508.4" r="2.3"/><circle cx="552" cy="504" r="2.3"/><circle cx="554" cy="500" r="2.3"/><circle cx="556" cy="496" r="2.3"/><circle cx="558" cy="493" r="2.3"/><circle cx="560" cy="491" r="2.3"/><circle cx="562" cy="485.6" r="2.3"/><circle cx="564.6" cy="487" r="2.3"/><circle cx="567" cy="484" r="2.3"/><circle cx="569" cy="481" r="2.3"/><circle cx="571" cy="479.6" r="2.3"/><circle cx="573" cy="478" r="2.3"/><circle cx="575" cy="477.6" r="2.3"/><circle cx="578" cy="482.6" r="2.3"/><circle cx="580.5" cy="477.2" r="2.3"/><circle cx="582.9" cy="481.4" r="2.3"/><circle cx="584" cy="491" r="2.3"/><circle cx="586.2" cy="497" r="2.3"/></g>
<polyline points="590.3,508.3 592.3,512.4 594.3,512.4 596.3,514.3 598.5,512.4 601.2,510.7 602.7,496.7 604.8,494.7 607,491" fill="none" stroke="#222222" stroke-width="1.9" stroke-linejoin="round"/>
<g fill="#222222"><circle cx="590.3" cy="508.3" r="2.3"/><circle cx="592.3" cy="512.4" r="2.3"/><circle cx="594.3" cy="512.4" r="2.3"/><circle cx="596.3" cy="514.3" r="2.3"/><circle cx="598.5" cy="512.4" r="2.3"/><circle cx="601.2" cy="510.7" r="2.3"/><circle cx="602.7" cy="496.7" r="2.3"/><circle cx="604.8" cy="494.7" r="2.3"/><circle cx="607" cy="491" r="2.3"/></g>
<g fill="#1474bc"><circle cx="129" cy="411" r="3.1"/><circle cx="256" cy="493" r="3.1"/><circle cx="399.6" cy="485" r="3.1"/></g>
<g fill="#2ca02c"><circle cx="145.6" cy="407.4" r="3.2"/><circle cx="194.82" cy="407.4" r="3.2"/><circle cx="244.04" cy="407.4" r="3.2"/><circle cx="293.26" cy="407.4" r="3.2"/><circle cx="342.48" cy="407.4" r="3.2"/><circle cx="391.7" cy="407.4" r="3.2"/><circle cx="440.92" cy="407.4" r="3.2"/><circle cx="490.14" cy="407.4" r="3.2"/><circle cx="539.36" cy="407.4" r="3.2"/><circle cx="588.58" cy="407.4" r="3.2"/><circle cx="525" cy="530" r="3.2"/></g>
<rect x="95.4" y="328" width="529" height="62.6" rx="3" ry="3" fill="#fff" fill-opacity="0.8" stroke="#d8d8d8" stroke-width="1"/>
<line x1="99.6" y1="338.8" x2="128" y2="338.8" stroke="#222222" stroke-width="2.0"/>
<circle cx="113.7" cy="338.8" r="2.6" fill="#222222"/>
<circle cx="113.9" cy="358.4" r="3.3" fill="#1474bc"/>
<circle cx="113.9" cy="378.3" r="3.3" fill="#8c564b"/>
<circle cx="281.2" cy="338.8" r="3.3" fill="#2ca02c"/>
<circle cx="281.2" cy="358.4" r="3.3" fill="#dc2438"/>
<circle cx="281.2" cy="378.3" r="3.3" fill="#8d68c4"/>
<circle cx="473" cy="338.8" r="3.3" fill="#e377c2"/>
<circle cx="473" cy="358.4" r="3.3" fill="#f97f1c"/>
<g font-family='"Liberation Sans", sans-serif' font-size="15" stroke="#2a2a2a" stroke-width="0.2" fill="#2a2a2a">
<text x="139" y="343.1" textLength="55.2" lengthAdjust="spacingAndGlyphs">Demand</text>
<text x="139" y="362.7" textLength="83.1" lengthAdjust="spacingAndGlyphs">Identical run</text>
<text x="139" y="382.6" textLength="101" lengthAdjust="spacingAndGlyphs">Global demand</text>
<text x="306.4" y="343.1" textLength="125.2" lengthAdjust="spacingAndGlyphs">Double-sided delta</text>
<text x="306.4" y="362.7" textLength="118.6" lengthAdjust="spacingAndGlyphs">Single-sided delta</text>
<text x="306.4" y="382.6" textLength="93.2" lengthAdjust="spacingAndGlyphs">Local demand</text>
<text x="498" y="343.1" textLength="106" lengthAdjust="spacingAndGlyphs">Negitive or zero</text>
<text x="498" y="362.7" textLength="121" lengthAdjust="spacingAndGlyphs">Anomalous region</text>
</g>
<rect x="90.4" y="321.1" width="541" height="240.3" fill="none" stroke="#707070" stroke-width="1.15"/>
<g stroke="#333" stroke-width="1.1">
<line x1="137.6" y1="561.4" x2="137.6" y2="564.4"/>
<line x1="186.82" y1="561.4" x2="186.82" y2="564.4"/>
<line x1="236.04" y1="561.4" x2="236.04" y2="564.4"/>
<line x1="285.26" y1="561.4" x2="285.26" y2="564.4"/>
<line x1="334.48" y1="561.4" x2="334.48" y2="564.4"/>
<line x1="383.7" y1="561.4" x2="383.7" y2="564.4"/>
<line x1="432.92" y1="561.4" x2="432.92" y2="564.4"/>
<line x1="482.14" y1="561.4" x2="482.14" y2="564.4"/>
<line x1="531.36" y1="561.4" x2="531.36" y2="564.4"/>
<line x1="580.58" y1="561.4" x2="580.58" y2="564.4"/>
<line x1="629.8" y1="561.4" x2="629.8" y2="564.4"/>
<line x1="87.4" y1="561.4" x2="90.4" y2="561.4"/>
<line x1="87.4" y1="522.4" x2="90.4" y2="522.4"/>
<line x1="87.4" y1="483.4" x2="90.4" y2="483.4"/>
<line x1="87.4" y1="444.4" x2="90.4" y2="444.4"/>
<line x1="87.4" y1="405.4" x2="90.4" y2="405.4"/>
<line x1="87.4" y1="366.4" x2="90.4" y2="366.4"/>
<line x1="87.4" y1="327.4" x2="90.4" y2="327.4"/>
</g>
<g font-family='"Liberation Sans", sans-serif' font-size="15" stroke="#2a2a2a" stroke-width="0.2" fill="#2a2a2a">
<text x="85.3" y="566.7" text-anchor="end" textLength="8.55" lengthAdjust="spacingAndGlyphs">0</text>
<text x="85.3" y="527.7" text-anchor="end" textLength="17.1" lengthAdjust="spacingAndGlyphs">20</text>
<text x="85.3" y="488.7" text-anchor="end" textLength="17.1" lengthAdjust="spacingAndGlyphs">40</text>
<text x="85.3" y="449.7" text-anchor="end" textLength="17.1" lengthAdjust="spacingAndGlyphs">60</text>
<text x="85.3" y="410.7" text-anchor="end" textLength="17.1" lengthAdjust="spacingAndGlyphs">80</text>
<text x="85.3" y="371.7" text-anchor="end" textLength="25.64" lengthAdjust="spacingAndGlyphs">100</text>
<text x="85.3" y="332.7" text-anchor="end" textLength="25.64" lengthAdjust="spacingAndGlyphs">120</text>
<text transform="translate(173.4,576) rotate(-30)" text-anchor="end" textLength="79.09" lengthAdjust="spacingAndGlyphs">2017-10-17</text>
<text transform="translate(222.62,576) rotate(-30)" text-anchor="end" textLength="79.09" lengthAdjust="spacingAndGlyphs">2017-10-18</text>
<text transform="translate(271.84,576) rotate(-30)" text-anchor="end" textLength="79.09" lengthAdjust="spacingAndGlyphs">2017-10-19</text>
<text transform="translate(321.06,576) rotate(-30)" text-anchor="end" textLength="79.09" lengthAdjust="spacingAndGlyphs">2017-10-20</text>
<text transform="translate(370.28,576) rotate(-30)" text-anchor="end" textLength="79.09" lengthAdjust="spacingAndGlyphs">2017-10-21</text>
<text transform="translate(419.5,576) rotate(-30)" text-anchor="end" textLength="79.09" lengthAdjust="spacingAndGlyphs">2017-10-22</text>
<text transform="translate(468.72,576) rotate(-30)" text-anchor="end" textLength="79.09" lengthAdjust="spacingAndGlyphs">2017-10-23</text>
<text transform="translate(517.94,576) rotate(-30)" text-anchor="end" textLength="79.09" lengthAdjust="spacingAndGlyphs">2017-10-24</text>
<text transform="translate(567.16,576) rotate(-30)" text-anchor="end" textLength="79.09" lengthAdjust="spacingAndGlyphs">2017-10-25</text>
<text transform="translate(616.38,576) rotate(-30)" text-anchor="end" textLength="79.09" lengthAdjust="spacingAndGlyphs">2017-10-26</text>
<text transform="translate(665.6,576) rotate(-30)" text-anchor="end" textLength="79.09" lengthAdjust="spacingAndGlyphs">2017-10-27</text>
</g>
<text transform="translate(53.9,441.25) rotate(-90)" text-anchor="middle" font-family='"Liberation Sans", sans-serif' font-size="15" stroke="#2a2a2a" stroke-width="0.2" fill="#2a2a2a" textLength="96.6" lengthAdjust="spacingAndGlyphs">Demand (MW)</text>
<text x="0" y="335.2" font-family='"Liberation Sans", sans-serif' font-size="23" fill="#111" stroke="#111" stroke-width="0.15" textLength="28.2" lengthAdjust="spacingAndGlyphs">(b)</text>
<g stroke="#d9d9d9" stroke-width="1.1">
<line x1="135" y1="638.1" x2="135" y2="877.8"/>
<line x1="184.26" y1="638.1" x2="184.26" y2="877.8"/>
<line x1="233.52" y1="638.1" x2="233.52" y2="877.8"/>
<line x1="282.78" y1="638.1" x2="282.78" y2="877.8"/>
<line x1="332.04" y1="638.1" x2="332.04" y2="877.8"/>
<line x1="381.3" y1="638.1" x2="381.3" y2="877.8"/>
<line x1="430.56" y1="638.1" x2="430.56" y2="877.8"/>
<line x1="479.82" y1="638.1" x2="479.82" y2="877.8"/>
<line x1="529.08" y1="638.1" x2="529.08" y2="877.8"/>
<line x1="578.34" y1="638.1" x2="578.34" y2="877.8"/>
<line x1="627.6" y1="638.1" x2="627.6" y2="877.8"/>
<line x1="90.4" y1="877.6" x2="631.4" y2="877.6"/>
<line x1="90.4" y1="826.3" x2="631.4" y2="826.3"/>
<line x1="90.4" y1="775" x2="631.4" y2="775"/>
<line x1="90.4" y1="723.7" x2="631.4" y2="723.7"/>
<line x1="90.4" y1="672.4" x2="631.4" y2="672.4"/>
</g>
<polyline points="114.4,814.7 116.46,811.02 118.52,804.86 120.58,800.99 122.64,797.72 124.7,794.92 126.76,792.63 128.81,790.62 130.87,789.72 132.93,790.7 134.99,792.49 137.05,795.14 139.11,798.93 141.17,803.97 143.23,809.78 145.29,815.49 147.35,818.03 149.41,819.85 151.47,821.41 153.53,821.85 155.59,820.5 157.64,818.48 159.7,816.9 161.76,815 163.82,812.19 165.88,807.68 167.94,802.78 170,800.11 172.06,797.52 174.12,794.19 176.18,790.02 178.24,788.17 180.3,787.52 182.36,788.41 184.41,790.09 186.47,792.1 188.53,795.27 190.59,801.88 192.65,807.89 194.71,812.57 196.77,815.98 198.83,818.11 200.89,819.55 202.95,819.97 205.01,819.2 207.07,817.82 209.13,815.77 211.19,812.84 213.24,809.06 215.3,802.95 217.36,798.26 219.42,793.6 221.48,790.15 223.54,787.09 225.6,785" fill="none" stroke="#222222" stroke-width="2.0" stroke-linejoin="round"/>
<g fill="#222222"><circle cx="114.4" cy="814.7" r="2.35"/><circle cx="116.46" cy="811.02" r="2.35"/><circle cx="118.52" cy="804.86" r="2.35"/><circle cx="120.58" cy="800.99" r="2.35"/><circle cx="122.64" cy="797.72" r="2.35"/><circle cx="124.7" cy="794.92" r="2.35"/><circle cx="126.76" cy="792.63" r="2.35"/><circle cx="128.81" cy="790.62" r="2.35"/><circle cx="130.87" cy="789.72" r="2.35"/><circle cx="132.93" cy="790.7" r="2.35"/><circle cx="134.99" cy="792.49" r="2.35"/><circle cx="137.05" cy="795.14" r="2.35"/><circle cx="139.11" cy="798.93" r="2.35"/><circle cx="141.17" cy="803.97" r="2.35"/><circle cx="143.23" cy="809.78" r="2.35"/><circle cx="145.29" cy="815.49" r="2.35"/><circle cx="147.35" cy="818.03" r="2.35"/><circle cx="149.41" cy="819.85" r="2.35"/><circle cx="151.47" cy="821.41" r="2.35"/><circle cx="153.53" cy="821.85" r="2.35"/><circle cx="155.59" cy="820.5" r="2.35"/><circle cx="157.64" cy="818.48" r="2.35"/><circle cx="159.7" cy="816.9" r="2.35"/><circle cx="161.76" cy="815" r="2.35"/><circle cx="163.82" cy="812.19" r="2.35"/><circle cx="165.88" cy="807.68" r="2.35"/><circle cx="167.94" cy="802.78" r="2.35"/><circle cx="170" cy="800.11" r="2.35"/><circle cx="172.06" cy="797.52" r="2.35"/><circle cx="174.12" cy="794.19" r="2.35"/><circle cx="176.18" cy="790.02" r="2.35"/><circle cx="178.24" cy="788.17" r="2.35"/><circle cx="180.3" cy="787.52" r="2.35"/><circle cx="182.36" cy="788.41" r="2.35"/><circle cx="184.41" cy="790.09" r="2.35"/><circle cx="186.47" cy="792.1" r="2.35"/><circle cx="188.53" cy="795.27" r="2.35"/><circle cx="190.59" cy="801.88" r="2.35"/><circle cx="192.65" cy="807.89" r="2.35"/><circle cx="194.71" cy="812.57" r="2.35"/><circle cx="196.77" cy="815.98" r="2.35"/><circle cx="198.83" cy="818.11" r="2.35"/><circle cx="200.89" cy="819.55" r="2.35"/><circle cx="202.95" cy="819.97" r="2.35"/><circle cx="205.01" cy="819.2" r="2.35"/><circle cx="207.07" cy="817.82" r="2.35"/><circle cx="209.13" cy="815.77" r="2.35"/><circle cx="211.19" cy="812.84" r="2.35"/><circle cx="213.24" cy="809.06" r="2.35"/><circle cx="215.3" cy="802.95" r="2.35"/><circle cx="217.36" cy="798.26" r="2.35"/><circle cx="219.42" cy="793.6" r="2.35"/><circle cx="221.48" cy="790.15" r="2.35"/><circle cx="223.54" cy="787.09" r="2.35"/><circle cx="225.6" cy="785" r="2.35"/></g>
<polyline points="278.8,783 280.87,783.95 282.94,785.72 285.01,788.01 287.08,791.57 289.15,798.5 291.23,805.59 293.3,809.72 295.37,812.99 297.44,815.45 299.51,816.99 301.58,817.58 303.65,816.66 305.72,815.37 307.79,813.48 309.86,809 311.93,804.92 314,799.16 316.07,794.08 318.15,790.81 320.22,787.73 322.29,785.19 324.36,783.27 326.43,783.1 328.5,783.1" fill="none" stroke="#222222" stroke-width="2.0" stroke-linejoin="round"/>
<g fill="#222222"><circle cx="278.8" cy="783" r="2.35"/><circle cx="280.87" cy="783.95" r="2.35"/><circle cx="282.94" cy="785.72" r="2.35"/><circle cx="285.01" cy="788.01" r="2.35"/><circle cx="287.08" cy="791.57" r="2.35"/><circle cx="289.15" cy="798.5" r="2.35"/><circle cx="291.23" cy="805.59" r="2.35"/><circle cx="293.3" cy="809.72" r="2.35"/><circle cx="295.37" cy="812.99" r="2.35"/><circle cx="297.44" cy="815.45" r="2.35"/><circle cx="299.51" cy="816.99" r="2.35"/><circle cx="301.58" cy="817.58" r="2.35"/><circle cx="303.65" cy="816.66" r="2.35"/><circle cx="305.72" cy="815.37" r="2.35"/><circle cx="307.79" cy="813.48" r="2.35"/><circle cx="309.86" cy="809" r="2.35"/><circle cx="311.93" cy="804.92" r="2.35"/><circle cx="314" cy="799.16" r="2.35"/><circle cx="316.07" cy="794.08" r="2.35"/><circle cx="318.15" cy="790.81" r="2.35"/><circle cx="320.22" cy="787.73" r="2.35"/><circle cx="322.29" cy="785.19" r="2.35"/><circle cx="324.36" cy="783.27" r="2.35"/><circle cx="326.43" cy="783.1" r="2.35"/><circle cx="328.5" cy="783.1" r="2.35"/></g>
<polyline points="332.2,787.5 334.25,791.71 336.3,795.11 338.35,798.7 340.41,804.8 342.46,809.9 344.51,814.19 346.56,817.24 348.61,819.34 350.66,820.31 352.71,821.04 354.77,822.21 356.82,823.1 358.87,819 360.92,813.37 362.97,804.44 365.02,798.56 367.08,794.67 369.13,790.98 371.18,788.61 373.23,786.94 375.28,785.49 377.33,785.09 379.38,787.12 381.44,789.74 383.49,792.75 385.54,796.51 387.59,800.99 389.64,806.25 391.69,812.05 393.74,815.86 395.8,818.26 397.85,819.77 399.9,821.13 401.95,822.97 404,824.35 406.05,822.73 408.11,818.72 410.16,813.29 412.21,807.73 414.26,801.63 416.31,795.35 418.36,791.62 420.41,789.46 422.47,788.11 424.52,787.33 426.57,786.91 428.62,787.74 430.67,789.99 432.72,792.69 434.77,796.31 436.83,801 438.88,808.02 440.93,813.2 442.98,816.29 445.03,818.74 447.08,821.55 449.14,823.32 451.19,824.15 453.24,824.33 455.29,822.81 457.34,819.72 459.39,814.42 461.44,806.82 463.5,802.25 465.55,798.19 467.6,795.2 469.65,791.08 471.7,788.07 473.75,786.34 475.8,786.49 477.86,787.87 479.91,794.76 481.96,798.3 484.01,801.74 486.06,805.44 488.11,806.94 490.16,810.95 492.22,814.41 494.27,816.84 496.32,819.1 498.37,819.98 500.42,818.98 502.47,817.89 504.53,817.19 506.58,813.37 508.63,807.72 510.68,800.36 512.73,795.12 514.78,791.6 516.83,787.31 518.89,784.64 520.94,782.77 522.99,781.01 525.04,781.69 527.09,783.26 529.14,785.91 531.19,796.07 533.25,798.34 535.3,802.9 537.35,809.92 539.4,810 541.45,813.85 543.5,817.24 545.56,819.07 547.61,820 549.66,819.04 551.71,817.91 553.76,817.25 555.81,814.67 557.86,806.01 559.92,799.16 561.97,794.23 564.02,789.35 566.07,785.79 568.12,783.02 570.17,781.49 572.22,780.7 574.28,780.92 576.33,782.54 578.38,785.44 580.43,789.68 582.48,794.49 584.53,799.79 586.59,805.92 588.64,809.9 590.69,813.02 592.74,815.19 594.79,816.86 596.84,817.23 598.89,816.43 600.95,815.47 603,814.63 605.05,811.6 607.1,806.6" fill="none" stroke="#222222" stroke-width="2.0" stroke-linejoin="round"/>
<g fill="#222222"><circle cx="332.2" cy="787.5" r="2.35"/><circle cx="334.25" cy="791.71" r="2.35"/><circle cx="336.3" cy="795.11" r="2.35"/><circle cx="338.35" cy="798.7" r="2.35"/><circle cx="340.41" cy="804.8" r="2.35"/><circle cx="342.46" cy="809.9" r="2.35"/><circle cx="344.51" cy="814.19" r="2.35"/><circle cx="346.56" cy="817.24" r="2.35"/><circle cx="348.61" cy="819.34" r="2.35"/><circle cx="350.66" cy="820.31" r="2.35"/><circle cx="352.71" cy="821.04" r="2.35"/><circle cx="354.77" cy="822.21" r="2.35"/><circle cx="356.82" cy="823.1" r="2.35"/><circle cx="358.87" cy="819" r="2.35"/><circle cx="360.92" cy="813.37" r="2.35"/><circle cx="362.97" cy="804.44" r="2.35"/><circle cx="365.02" cy="798.56" r="2.35"/><circle cx="367.08" cy="794.67" r="2.35"/><circle cx="369.13" cy="790.98" r="2.35"/><circle cx="371.18" cy="788.61" r="2.35"/><circle cx="373.23" cy="786.94" r="2.35"/><circle cx="375.28" cy="785.49" r="2.35"/><circle cx="377.33" cy="785.09" r="2.35"/><circle cx="379.38" cy="787.12" r="2.35"/><circle cx="381.44" cy="789.74" r="2.35"/><circle cx="383.49" cy="792.75" r="2.35"/><circle cx="385.54" cy="796.51" r="2.35"/><circle cx="387.59" cy="800.99" r="2.35"/><circle cx="389.64" cy="806.25" r="2.35"/><circle cx="391.69" cy="812.05" r="2.35"/><circle cx="393.74" cy="815.86" r="2.35"/><circle cx="395.8" cy="818.26" r="2.35"/><circle cx="397.85" cy="819.77" r="2.35"/><circle cx="399.9" cy="821.13" r="2.35"/><circle cx="401.95" cy="822.97" r="2.35"/><circle cx="404" cy="824.35" r="2.35"/><circle cx="406.05" cy="822.73" r="2.35"/><circle cx="408.11" cy="818.72" r="2.35"/><circle cx="410.16" cy="813.29" r="2.35"/><circle cx="412.21" cy="807.73" r="2.35"/><circle cx="414.26" cy="801.63" r="2.35"/><circle cx="416.31" cy="795.35" r="2.35"/><circle cx="418.36" cy="791.62" r="2.35"/><circle cx="420.41" cy="789.46" r="2.35"/><circle cx="422.47" cy="788.11" r="2.35"/><circle cx="424.52" cy="787.33" r="2.35"/><circle cx="426.57" cy="786.91" r="2.35"/><circle cx="428.62" cy="787.74" r="2.35"/><circle cx="430.67" cy="789.99" r="2.35"/><circle cx="432.72" cy="792.69" r="2.35"/><circle cx="434.77" cy="796.31" r="2.35"/><circle cx="436.83" cy="801" r="2.35"/><circle cx="438.88" cy="808.02" r="2.35"/><circle cx="440.93" cy="813.2" r="2.35"/><circle cx="442.98" cy="816.29" r="2.35"/><circle cx="445.03" cy="818.74" r="2.35"/><circle cx="447.08" cy="821.55" r="2.35"/><circle cx="449.14" cy="823.32" r="2.35"/><circle cx="451.19" cy="824.15" r="2.35"/><circle cx="453.24" cy="824.33" r="2.35"/><circle cx="455.29" cy="822.81" r="2.35"/><circle cx="457.34" cy="819.72" r="2.35"/><circle cx="459.39" cy="814.42" r="2.35"/><circle cx="461.44" cy="806.82" r="2.35"/><circle cx="463.5" cy="802.25" r="2.35"/><circle cx="465.55" cy="798.19" r="2.35"/><circle cx="467.6" cy="795.2" r="2.35"/><circle cx="469.65" cy="791.08" r="2.35"/><circle cx="471.7" cy="788.07" r="2.35"/><circle cx="473.75" cy="786.34" r="2.35"/><circle cx="475.8" cy="786.49" r="2.35"/><circle cx="477.86" cy="787.87" r="2.35"/><circle cx="479.91" cy="794.76" r="2.35"/><circle cx="481.96" cy="798.3" r="2.35"/><circle cx="484.01" cy="801.74" r="2.35"/><circle cx="486.06" cy="805.44" r="2.35"/><circle cx="488.11" cy="806.94" r="2.35"/><circle cx="490.16" cy="810.95" r="2.35"/><circle cx="492.22" cy="814.41" r="2.35"/><circle cx="494.27" cy="816.84" r="2.35"/><circle cx="496.32" cy="819.1" r="2.35"/><circle cx="498.37" cy="819.98" r="2.35"/><circle cx="500.42" cy="818.98" r="2.35"/><circle cx="502.47" cy="817.89" r="2.35"/><circle cx="504.53" cy="817.19" r="2.35"/><circle cx="506.58" cy="813.37" r="2.35"/><circle cx="508.63" cy="807.72" r="2.35"/><circle cx="510.68" cy="800.36" r="2.35"/><circle cx="512.73" cy="795.12" r="2.35"/><circle cx="514.78" cy="791.6" r="2.35"/><circle cx="516.83" cy="787.31" r="2.35"/><circle cx="518.89" cy="784.64" r="2.35"/><circle cx="520.94" cy="782.77" r="2.35"/><circle cx="522.99" cy="781.01" r="2.35"/><circle cx="525.04" cy="781.69" r="2.35"/><circle cx="527.09" cy="783.26" r="2.35"/><circle cx="529.14" cy="785.91" r="2.35"/><circle cx="531.19" cy="796.07" r="2.35"/><circle cx="533.25" cy="798.34" r="2.35"/><circle cx="535.3" cy="802.9" r="2.35"/><circle cx="537.35" cy="809.92" r="2.35"/><circle cx="539.4" cy="810" r="2.35"/><circle cx="541.45" cy="813.85" r="2.35"/><circle cx="543.5" cy="817.24" r="2.35"/><circle cx="545.56" cy="819.07" r="2.35"/><circle cx="547.61" cy="820" r="2.35"/><circle cx="549.66" cy="819.04" r="2.35"/><circle cx="551.71" cy="817.91" r="2.35"/><circle cx="553.76" cy="817.25" r="2.35"/><circle cx="555.81" cy="814.67" r="2.35"/><circle cx="557.86" cy="806.01" r="2.35"/><circle cx="559.92" cy="799.16" r="2.35"/><circle cx="561.97" cy="794.23" r="2.35"/><circle cx="564.02" cy="789.35" r="2.35"/><circle cx="566.07" cy="785.79" r="2.35"/><circle cx="568.12" cy="783.02" r="2.35"/><circle cx="570.17" cy="781.49" r="2.35"/><circle cx="572.22" cy="780.7" r="2.35"/><circle cx="574.28" cy="780.92" r="2.35"/><circle cx="576.33" cy="782.54" r="2.35"/><circle cx="578.38" cy="785.44" r="2.35"/><circle cx="580.43" cy="789.68" r="2.35"/><circle cx="582.48" cy="794.49" r="2.35"/><circle cx="584.53" cy="799.79" r="2.35"/><circle cx="586.59" cy="805.92" r="2.35"/><circle cx="588.64" cy="809.9" r="2.35"/><circle cx="590.69" cy="813.02" r="2.35"/><circle cx="592.74" cy="815.19" r="2.35"/><circle cx="594.79" cy="816.86" r="2.35"/><circle cx="596.84" cy="817.23" r="2.35"/><circle cx="598.89" cy="816.43" r="2.35"/><circle cx="600.95" cy="815.47" r="2.35"/><circle cx="603" cy="814.63" r="2.35"/><circle cx="605.05" cy="811.6" r="2.35"/><circle cx="607.1" cy="806.6" r="2.35"/></g>
<g fill="#f97f1c"><circle cx="231.4" cy="784.2" r="3.1"/><circle cx="239.7" cy="799.6" r="3.1"/><circle cx="241.7" cy="806.4" r="3.1"/><circle cx="245.5" cy="813.5" r="3.1"/><circle cx="247.1" cy="815" r="3.1"/><circle cx="248.7" cy="816.3" r="3.1"/><circle cx="250.6" cy="817.5" r="3.1"/><circle cx="252.6" cy="818.2" r="3.1"/><circle cx="254.5" cy="817.5" r="3.1"/><circle cx="256.4" cy="816.3" r="3.1"/><circle cx="258" cy="815" r="3.1"/><circle cx="259.6" cy="813.1" r="3.1"/><circle cx="261" cy="811" r="3.1"/><circle cx="262.2" cy="808.6" r="3.1"/><circle cx="264.1" cy="802.8" r="3.1"/><circle cx="268" cy="793.8" r="3.1"/><circle cx="270.5" cy="789.4" r="3.1"/><circle cx="275" cy="783.8" r="3.1"/></g>
<g fill="#2ca02c"><circle cx="227.3" cy="727.8" r="3.2"/><circle cx="233.7" cy="730.6" r="3.2"/><circle cx="237.8" cy="738.5" r="3.2"/><circle cx="272.7" cy="725" r="3.2"/><circle cx="229.5" cy="838.7" r="3.2"/><circle cx="235.9" cy="847.4" r="3.2"/><circle cx="244" cy="867.6" r="3.2"/><circle cx="266.3" cy="857" r="3.2"/><circle cx="276.9" cy="843.8" r="3.2"/><circle cx="330" cy="810.4" r="3.2"/></g>
<rect x="95.4" y="645" width="529" height="62.6" rx="3" ry="3" fill="#fff" fill-opacity="0.8" stroke="#d8d8d8" stroke-width="1"/>
<line x1="99.6" y1="655.8" x2="128" y2="655.8" stroke="#222222" stroke-width="2.0"/>
<circle cx="113.7" cy="655.8" r="2.6" fill="#222222"/>
<circle cx="113.9" cy="675.4" r="3.3" fill="#1474bc"/>
<circle cx="113.9" cy="695.3" r="3.3" fill="#8c564b"/>
<circle cx="281.2" cy="655.8" r="3.3" fill="#2ca02c"/>
<circle cx="281.2" cy="675.4" r="3.3" fill="#dc2438"/>
<circle cx="281.2" cy="695.3" r="3.3" fill="#8d68c4"/>
<circle cx="473" cy="655.8" r="3.3" fill="#e377c2"/>
<circle cx="473" cy="675.4" r="3.3" fill="#f97f1c"/>
<g font-family='"Liberation Sans", sans-serif' font-size="15" stroke="#2a2a2a" stroke-width="0.2" fill="#2a2a2a">
<text x="139" y="660.1" textLength="55.2" lengthAdjust="spacingAndGlyphs">Demand</text>
<text x="139" y="679.7" textLength="83.1" lengthAdjust="spacingAndGlyphs">Identical run</text>
<text x="139" y="699.6" textLength="101" lengthAdjust="spacingAndGlyphs">Global demand</text>
<text x="306.4" y="660.1" textLength="125.2" lengthAdjust="spacingAndGlyphs">Double-sided delta</text>
<text x="306.4" y="679.7" textLength="118.6" lengthAdjust="spacingAndGlyphs">Single-sided delta</text>
<text x="306.4" y="699.6" textLength="93.2" lengthAdjust="spacingAndGlyphs">Local demand</text>
<text x="498" y="660.1" textLength="106" lengthAdjust="spacingAndGlyphs">Negitive or zero</text>
<text x="498" y="679.7" textLength="121" lengthAdjust="spacingAndGlyphs">Anomalous region</text>
</g>
<rect x="90.4" y="638.1" width="541" height="239.7" fill="none" stroke="#707070" stroke-width="1.15"/>
<g stroke="#333" stroke-width="1.1">
<line x1="135" y1="877.8" x2="135" y2="880.8"/>
<line x1="184.26" y1="877.8" x2="184.26" y2="880.8"/>
<line x1="233.52" y1="877.8" x2="233.52" y2="880.8"/>
<line x1="282.78" y1="877.8" x2="282.78" y2="880.8"/>
<line x1="332.04" y1="877.8" x2="332.04" y2="880.8"/>
<line x1="381.3" y1="877.8" x2="381.3" y2="880.8"/>
<line x1="430.56" y1="877.8" x2="430.56" y2="880.8"/>
<line x1="479.82" y1="877.8" x2="479.82" y2="880.8"/>
<line x1="529.08" y1="877.8" x2="529.08" y2="880.8"/>
<line x1="578.34" y1="877.8" x2="578.34" y2="880.8"/>
<line x1="627.6" y1="877.8" x2="627.6" y2="880.8"/>
<line x1="87.4" y1="877.6" x2="90.4" y2="877.6"/>
<line x1="87.4" y1="826.3" x2="90.4" y2="826.3"/>
<line x1="87.4" y1="775" x2="90.4" y2="775"/>
<line x1="87.4" y1="723.7" x2="90.4" y2="723.7"/>
<line x1="87.4" y1="672.4" x2="90.4" y2="672.4"/>
</g>
<g font-family='"Liberation Sans", sans-serif' font-size="15" stroke="#2a2a2a" stroke-width="0.2" fill="#2a2a2a">
<text x="85.3" y="882.9" text-anchor="end" textLength="8.55" lengthAdjust="spacingAndGlyphs">0</text>
<text x="85.3" y="831.6" text-anchor="end" textLength="47.01" lengthAdjust="spacingAndGlyphs">20,000</text>
<text x="85.3" y="780.3" text-anchor="end" textLength="47.01" lengthAdjust="spacingAndGlyphs">40,000</text>
<text x="85.3" y="729" text-anchor="end" textLength="47.01" lengthAdjust="spacingAndGlyphs">60,000</text>
<text x="85.3" y="677.7" text-anchor="end" textLength="47.01" lengthAdjust="spacingAndGlyphs">80,000</text>
<text transform="translate(170.8,892.4) rotate(-30)" text-anchor="end" textLength="79.09" lengthAdjust="spacingAndGlyphs">2019-05-21</text>
<text transform="translate(220.06,892.4) rotate(-30)" text-anchor="end" textLength="79.09" lengthAdjust="spacingAndGlyphs">2019-05-22</text>
<text transform="translate(269.32,892.4) rotate(-30)" text-anchor="end" textLength="79.09" lengthAdjust="spacingAndGlyphs">2019-05-23</text>
<text transform="translate(318.58,892.4) rotate(-30)" text-anchor="end" textLength="79.09" lengthAdjust="spacingAndGlyphs">2019-05-24</text>
<text transform="translate(367.84,892.4) rotate(-30)" text-anchor="end" textLength="79.09" lengthAdjust="spacingAndGlyphs">2019-05-25</text>
<text transform="translate(417.1,892.4) rotate(-30)" text-anchor="end" textLength="79.09" lengthAdjust="spacingAndGlyphs">2019-05-26</text>
<text transform="translate(466.36,892.4) rotate(-30)" text-anchor="end" textLength="79.09" lengthAdjust="spacingAndGlyphs">2019-05-27</text>
<text transform="translate(515.62,892.4) rotate(-30)" text-anchor="end" textLength="79.09" lengthAdjust="spacingAndGlyphs">2019-05-28</text>
<text transform="translate(564.88,892.4) rotate(-30)" text-anchor="end" textLength="79.09" lengthAdjust="spacingAndGlyphs">2019-05-29</text>
<text transform="translate(614.14,892.4) rotate(-30)" text-anchor="end" textLength="79.09" lengthAdjust="spacingAndGlyphs">2019-05-30</text>
<text transform="translate(663.4,892.4) rotate(-30)" text-anchor="end" textLength="79.09" lengthAdjust="spacingAndGlyphs">2019-05-31</text>
</g>
<text transform="translate(32.2,757.95) rotate(-90)" text-anchor="middle" font-family='"Liberation Sans", sans-serif' font-size="15" stroke="#2a2a2a" stroke-width="0.2" fill="#2a2a2a" textLength="96.6" lengthAdjust="spacingAndGlyphs">Demand (MW)</text>
<text x="0" y="652.2" font-family='"Liberation Sans", sans-serif' font-size="23" fill="#111" stroke="#111" stroke-width="0.15" textLength="25.5" lengthAdjust="spacingAndGlyphs">(c)</text>
<g stroke="#d9d9d9" stroke-width="1.1">
<line x1="137.6" y1="954.9" x2="137.6" y2="1194.8"/>
<line x1="186.82" y1="954.9" x2="186.82" y2="1194.8"/>
<line x1="236.04" y1="954.9" x2="236.04" y2="1194.8"/>
<line x1="285.26" y1="954.9" x2="285.26" y2="1194.8"/>
<line x1="334.48" y1="954.9" x2="334.48" y2="1194.8"/>
<line x1="383.7" y1="954.9" x2="383.7" y2="1194.8"/>
<line x1="432.92" y1="954.9" x2="432.92" y2="1194.8"/>
<line x1="482.14" y1="954.9" x2="482.14" y2="1194.8"/>
<line x1="531.36" y1="954.9" x2="531.36" y2="1194.8"/>
<line x1="580.58" y1="954.9" x2="580.58" y2="1194.8"/>
<line x1="629.8" y1="954.9" x2="629.8" y2="1194.8"/>
<line x1="90.4" y1="1187.4" x2="631.4" y2="1187.4"/>
<line x1="90.4" y1="1146.05" x2="631.4" y2="1146.05"/>
<line x1="90.4" y1="1104.7" x2="631.4" y2="1104.7"/>
<line x1="90.4" y1="1063.35" x2="631.4" y2="1063.35"/>
<line x1="90.4" y1="1022" x2="631.4" y2="1022"/>
<line x1="90.4" y1="980.65" x2="631.4" y2="980.65"/>
</g>
<polyline points="114.2,1095 116.7,1088.7 119,1084.7 120.7,1076.9 122.7,1070.6 124.9,1066.2 126.7,1064.4 130.5,1065 133,1066.9 135.5,1067.5 138.6,1063.7 141.5,1061.2 144.2,1063.7 146.7,1067.5 149.9,1071.9 151.7,1078.1 154,1083.7 156.1,1089.4 158.6,1094.4 161.7,1097.5 165.5,1095 168,1090.6 169.9,1085.6 171.7,1078.7 173.6,1073.1 176.1,1069.4 179.2,1068.1 181.7,1068.7 184.2,1071.2 186.7,1066.9 188.6,1063.4 190.5,1058.7 193,1058.7 195.5,1060.6 197.4,1063.1 199,1068.7 201.1,1076.9 202.7,1086.2 204.9,1091.2 206.7,1096.2 208.6,1097.7 211.1,1095 213,1091.2 215.2,1080.6 217,1065 218.6,1055 221.1,1053.7 223,1055 225,1056.5 227,1057.8 229,1058.9 231.1,1060.2 233.6,1061.9 236.1,1058.7 238,1055 239.9,1049.4 242.4,1051.2 244.2,1053.7 246.1,1058.1 248,1063.1 249.9,1073.7 252.4,1083.7 254.2,1089.4 256.7,1093.7 258.6,1095 260.5,1093.7 262.4,1089.4 264.5,1077.5 266.1,1061.2 268.6,1051.2 271.1,1051.9 273,1055.6 276.1,1057.5 278.6,1058.7 280.5,1059.4" fill="none" stroke="#222222" stroke-width="2.0" stroke-linejoin="round"/>
<g fill="#222222"><circle cx="114.2" cy="1095" r="2.35"/><circle cx="116.7" cy="1088.7" r="2.35"/><circle cx="119" cy="1084.7" r="2.35"/><circle cx="120.7" cy="1076.9" r="2.35"/><circle cx="122.7" cy="1070.6" r="2.35"/><circle cx="124.9" cy="1066.2" r="2.35"/><circle cx="126.7" cy="1064.4" r="2.35"/><circle cx="130.5" cy="1065" r="2.35"/><circle cx="133" cy="1066.9" r="2.35"/><circle cx="135.5" cy="1067.5" r="2.35"/><circle cx="138.6" cy="1063.7" r="2.35"/><circle cx="141.5" cy="1061.2" r="2.35"/><circle cx="144.2" cy="1063.7" r="2.35"/><circle cx="146.7" cy="1067.5" r="2.35"/><circle cx="149.9" cy="1071.9" r="2.35"/><circle cx="151.7" cy="1078.1" r="2.35"/><circle cx="154" cy="1083.7" r="2.35"/><circle cx="156.1" cy="1089.4" r="2.35"/><circle cx="158.6" cy="1094.4" r="2.35"/><circle cx="161.7" cy="1097.5" r="2.35"/><circle cx="165.5" cy="1095" r="2.35"/><circle cx="168" cy="1090.6" r="2.35"/><circle cx="169.9" cy="1085.6" r="2.35"/><circle cx="171.7" cy="1078.7" r="2.35"/><circle cx="173.6" cy="1073.1" r="2.35"/><circle cx="176.1" cy="1069.4" r="2.35"/><circle cx="179.2" cy="1068.1" r="2.35"/><circle cx="181.7" cy="1068.7" r="2.35"/><circle cx="184.2" cy="1071.2" r="2.35"/><circle cx="186.7" cy="1066.9" r="2.35"/><circle cx="188.6" cy="1063.4" r="2.35"/><circle cx="190.5" cy="1058.7" r="2.35"/><circle cx="193" cy="1058.7" r="2.35"/><circle cx="195.5" cy="1060.6" r="2.35"/><circle cx="197.4" cy="1063.1" r="2.35"/><circle cx="199" cy="1068.7" r="2.35"/><circle cx="201.1" cy="1076.9" r="2.35"/><circle cx="202.7" cy="1086.2" r="2.35"/><circle cx="204.9" cy="1091.2" r="2.35"/><circle cx="206.7" cy="1096.2" r="2.35"/><circle cx="208.6" cy="1097.7" r="2.35"/><circle cx="211.1" cy="1095" r="2.35"/><circle cx="213" cy="1091.2" r="2.35"/><circle cx="215.2" cy="1080.6" r="2.35"/><circle cx="217" cy="1065" r="2.35"/><circle cx="218.6" cy="1055" r="2.35"/><circle cx="221.1" cy="1053.7" r="2.35"/><circle cx="223" cy="1055" r="2.35"/><circle cx="225" cy="1056.5" r="2.35"/><circle cx="227" cy="1057.8" r="2.35"/><circle cx="229" cy="1058.9" r="2.35"/><circle cx="231.1" cy="1060.2" r="2.35"/><circle cx="233.6" cy="1061.9" r="2.35"/><circle cx="236.1" cy="1058.7" r="2.35"/><circle cx="238" cy="1055" r="2.35"/><circle cx="239.9" cy="1049.4" r="2.35"/><circle cx="242.4" cy="1051.2" r="2.35"/><circle cx="244.2" cy="1053.7" r="2.35"/><circle cx="246.1" cy="1058.1" r="2.35"/><circle cx="248" cy="1063.1" r="2.35"/><circle cx="249.9" cy="1073.7" r="2.35"/><circle cx="252.4" cy="1083.7" r="2.35"/><circle cx="254.2" cy="1089.4" r="2.35"/><circle cx="256.7" cy="1093.7" r="2.35"/><circle cx="258.6" cy="1095" r="2.35"/><circle cx="260.5" cy="1093.7" r="2.35"/><circle cx="262.4" cy="1089.4" r="2.35"/><circle cx="264.5" cy="1077.5" r="2.35"/><circle cx="266.1" cy="1061.2" r="2.35"/><circle cx="268.6" cy="1051.2" r="2.35"/><circle cx="271.1" cy="1051.9" r="2.35"/><circle cx="273" cy="1055.6" r="2.35"/><circle cx="276.1" cy="1057.5" r="2.35"/><circle cx="278.6" cy="1058.7" r="2.35"/><circle cx="280.5" cy="1059.4" r="2.35"/></g>
<polyline points="428.1,1055 431.2,1056.9 433.7,1055.6 434.7,1066.2 436.9,1040 438.7,1043.7 441.2,1047.5 443.1,1050.6 445,1055.6 447.2,1062.5 449,1070 451.2,1075 453.7,1078.7 455.6,1080 458.1,1079 460,1077.5 461.2,1074.4 463.1,1068.7 465.6,1060.6 467.5,1072.5 469.7,1068.7 471.2,1047.5 473.7,1047.5 475.6,1050 477.5,1055.6 480,1056.9 481.9,1058.1 483.7,1052.5 486,1047.5 488.1,1048.7 490.6,1051.9 492.5,1053.7 494.7,1056.9 496.2,1063.7 498.1,1072.5 500,1079.4 503.1,1083.1 506.2,1084.4 509.4,1083.1 511.2,1080 512.5,1075 514.4,1069.4 516.2,1063.1 518.1,1060 518.7,1058.1 520.6,1062.5 523.1,1061.2 525.6,1060 528.1,1061.9 529.7,1062.5 530.6,1051.9 533.5,1053.1" fill="none" stroke="#222222" stroke-width="2.0" stroke-linejoin="round"/>
<g fill="#222222"><circle cx="428.1" cy="1055" r="2.35"/><circle cx="431.2" cy="1056.9" r="2.35"/><circle cx="433.7" cy="1055.6" r="2.35"/><circle cx="434.7" cy="1066.2" r="2.35"/><circle cx="436.9" cy="1040" r="2.35"/><circle cx="438.7" cy="1043.7" r="2.35"/><circle cx="441.2" cy="1047.5" r="2.35"/><circle cx="443.1" cy="1050.6" r="2.35"/><circle cx="445" cy="1055.6" r="2.35"/><circle cx="447.2" cy="1062.5" r="2.35"/><circle cx="449" cy="1070" r="2.35"/><circle cx="451.2" cy="1075" r="2.35"/><circle cx="453.7" cy="1078.7" r="2.35"/><circle cx="455.6" cy="1080" r="2.35"/><circle cx="458.1" cy="1079" r="2.35"/><circle cx="460" cy="1077.5" r="2.35"/><circle cx="461.2" cy="1074.4" r="2.35"/><circle cx="463.1" cy="1068.7" r="2.35"/><circle cx="465.6" cy="1060.6" r="2.35"/><circle cx="467.5" cy="1072.5" r="2.35"/><circle cx="469.7" cy="1068.7" r="2.35"/><circle cx="471.2" cy="1047.5" r="2.35"/><circle cx="473.7" cy="1047.5" r="2.35"/><circle cx="475.6" cy="1050" r="2.35"/><circle cx="477.5" cy="1055.6" r="2.35"/><circle cx="480" cy="1056.9" r="2.35"/><circle cx="481.9" cy="1058.1" r="2.35"/><circle cx="483.7" cy="1052.5" r="2.35"/><circle cx="486" cy="1047.5" r="2.35"/><circle cx="488.1" cy="1048.7" r="2.35"/><circle cx="490.6" cy="1051.9" r="2.35"/><circle cx="492.5" cy="1053.7" r="2.35"/><circle cx="494.7" cy="1056.9" r="2.35"/><circle cx="496.2" cy="1063.7" r="2.35"/><circle cx="498.1" cy="1072.5" r="2.35"/><circle cx="500" cy="1079.4" r="2.35"/><circle cx="503.1" cy="1083.1" r="2.35"/><circle cx="506.2" cy="1084.4" r="2.35"/><circle cx="509.4" cy="1083.1" r="2.35"/><circle cx="511.2" cy="1080" r="2.35"/><circle cx="512.5" cy="1075" r="2.35"/><circle cx="514.4" cy="1069.4" r="2.35"/><circle cx="516.2" cy="1063.1" r="2.35"/><circle cx="518.1" cy="1060" r="2.35"/><circle cx="518.7" cy="1058.1" r="2.35"/><circle cx="520.6" cy="1062.5" r="2.35"/><circle cx="523.1" cy="1061.2" r="2.35"/><circle cx="525.6" cy="1060" r="2.35"/><circle cx="528.1" cy="1061.9" r="2.35"/><circle cx="529.7" cy="1062.5" r="2.35"/><circle cx="530.6" cy="1051.9" r="2.35"/><circle cx="533.5" cy="1053.1" r="2.35"/></g>
<polyline points="537.2,1058.1 539.4,1062.5 541.2,1071.9 543.5,1080.6" fill="none" stroke="#222222" stroke-width="2.0" stroke-linejoin="round"/>
<g fill="#222222"><circle cx="537.2" cy="1058.1" r="2.35"/><circle cx="539.4" cy="1062.5" r="2.35"/><circle cx="541.2" cy="1071.9" r="2.35"/><circle cx="543.5" cy="1080.6" r="2.35"/></g>
<polyline points="549.4,1086.2 551.2,1089.4 553.5,1091.2 556.2,1089.4 558.1,1083.7 559.7,1072.5 561.9,1058.7 563.7,1051.2 565.6,1048.7 568.1,1049.4 570.6,1051.2 572.5,1053.7 575,1055.6 577.5,1057.5 580.6,1058.1 582.5,1055.6 584.4,1051.2 586.9,1053.1 588.7,1056.9 590.6,1060.6 592.5,1066.2 594.4,1076.9 596.5,1084.4 598.7,1092.5 601,1096.9 603.1,1098.7 605.6,1098.1 607.2,1095" fill="none" stroke="#222222" stroke-width="2.0" stroke-linejoin="round"/>
<g fill="#222222"><circle cx="549.4" cy="1086.2" r="2.35"/><circle cx="551.2" cy="1089.4" r="2.35"/><circle cx="553.5" cy="1091.2" r="2.35"/><circle cx="556.2" cy="1089.4" r="2.35"/><circle cx="558.1" cy="1083.7" r="2.35"/><circle cx="559.7" cy="1072.5" r="2.35"/><circle cx="561.9" cy="1058.7" r="2.35"/><circle cx="563.7" cy="1051.2" r="2.35"/><circle cx="565.6" cy="1048.7" r="2.35"/><circle cx="568.1" cy="1049.4" r="2.35"/><circle cx="570.6" cy="1051.2" r="2.35"/><circle cx="572.5" cy="1053.7" r="2.35"/><circle cx="575" cy="1055.6" r="2.35"/><circle cx="577.5" cy="1057.5" r="2.35"/><circle cx="580.6" cy="1058.1" r="2.35"/><circle cx="582.5" cy="1055.6" r="2.35"/><circle cx="584.4" cy="1051.2" r="2.35"/><circle cx="586.9" cy="1053.1" r="2.35"/><circle cx="588.7" cy="1056.9" r="2.35"/><circle cx="590.6" cy="1060.6" r="2.35"/><circle cx="592.5" cy="1066.2" r="2.35"/><circle cx="594.4" cy="1076.9" r="2.35"/><circle cx="596.5" cy="1084.4" r="2.35"/><circle cx="598.7" cy="1092.5" r="2.35"/><circle cx="601" cy="1096.9" r="2.35"/><circle cx="603.1" cy="1098.7" r="2.35"/><circle cx="605.6" cy="1098.1" r="2.35"/><circle cx="607.2" cy="1095" r="2.35"/></g>
<g fill="#dc2438"><circle cx="286.9" cy="1150" r="3.2"/><circle cx="289.4" cy="1153.7" r="3.2"/><circle cx="285" cy="1155.6" r="3.2"/><circle cx="288" cy="1157" r="3.2"/><circle cx="290.6" cy="1159.4" r="3.2"/><circle cx="292.8" cy="1159" r="3.2"/><circle cx="295" cy="1158.7" r="3.2"/><circle cx="297.2" cy="1158.5" r="3.2"/><circle cx="299.4" cy="1158.1" r="3.2"/><circle cx="301.2" cy="1161.2" r="3.2"/><circle cx="303.7" cy="1166.2" r="3.2"/><circle cx="305.6" cy="1167.5" r="3.2"/><circle cx="307.5" cy="1168.1" r="3.2"/><circle cx="309.4" cy="1167.5" r="3.2"/><circle cx="311.2" cy="1166.9" r="3.2"/><circle cx="313.7" cy="1158.1" r="3.2"/></g>
<g fill="#8d68c4"><circle cx="282.7" cy="1152.7" r="3.2"/></g>
<g fill="#f97f1c"><circle cx="316.9" cy="1147.5" r="3.1"/><circle cx="318.2" cy="1147.5" r="3.1"/><circle cx="319.4" cy="1154.4" r="3.1"/><circle cx="322.5" cy="1156.9" r="3.1"/><circle cx="325" cy="1159.4" r="3.1"/><circle cx="327.5" cy="1159.4" r="3.1"/><circle cx="330" cy="1159.4" r="3.1"/><circle cx="331.9" cy="1153.7" r="3.1"/><circle cx="331" cy="1159.6" r="3.1"/><circle cx="334" cy="1169.7" r="3.1"/><circle cx="346.5" cy="1157.5" r="3.1"/><circle cx="401.9" cy="1086.9" r="3.1"/><circle cx="403.8" cy="1088.5" r="3.1"/><circle cx="405.6" cy="1089.4" r="3.1"/><circle cx="408.1" cy="1089.4" r="3.1"/><circle cx="410" cy="1081.9" r="3.1"/><circle cx="411.9" cy="1071.2" r="3.1"/><circle cx="414" cy="1054.7" r="3.1"/><circle cx="416" cy="1039.7" r="3.1"/><circle cx="418.1" cy="1041.9" r="3.1"/></g>
<g fill="#e377c2"><circle cx="336.6" cy="1187.6" r="3.0"/><circle cx="338.68" cy="1187.6" r="3.0"/><circle cx="340.76" cy="1187.6" r="3.0"/><circle cx="342.84" cy="1187.6" r="3.0"/><circle cx="344.92" cy="1187.6" r="3.0"/><circle cx="347" cy="1187.6" r="3.0"/><circle cx="349.08" cy="1187.6" r="3.0"/><circle cx="351.16" cy="1187.6" r="3.0"/><circle cx="353.24" cy="1187.6" r="3.0"/><circle cx="355.32" cy="1187.6" r="3.0"/><circle cx="357.4" cy="1187.6" r="3.0"/><circle cx="359.48" cy="1187.6" r="3.0"/><circle cx="361.56" cy="1187.6" r="3.0"/><circle cx="363.64" cy="1187.6" r="3.0"/><circle cx="365.72" cy="1187.6" r="3.0"/><circle cx="367.8" cy="1187.6" r="3.0"/><circle cx="369.88" cy="1187.6" r="3.0"/><circle cx="371.96" cy="1187.6" r="3.0"/><circle cx="374.04" cy="1187.6" r="3.0"/><circle cx="376.12" cy="1187.6" r="3.0"/><circle cx="378.2" cy="1187.6" r="3.0"/><circle cx="380.28" cy="1187.6" r="3.0"/><circle cx="382.36" cy="1187.6" r="3.0"/><circle cx="384.44" cy="1187.6" r="3.0"/><circle cx="386.52" cy="1187.6" r="3.0"/><circle cx="388.6" cy="1187.6" r="3.0"/><circle cx="390.68" cy="1187.6" r="3.0"/><circle cx="392.76" cy="1187.6" r="3.0"/><circle cx="394.84" cy="1187.6" r="3.0"/><circle cx="396.92" cy="1187.6" r="3.0"/><circle cx="399" cy="1187.6" r="3.0"/></g>
<g fill="#8d68c4"><circle cx="420.1" cy="1172.8" r="3.1"/><circle cx="423.1" cy="1174.9" r="3.1"/><circle cx="426.7" cy="1176.4" r="3.1"/></g>
<g fill="#2ca02c"><circle cx="535" cy="1074" r="3.2"/><circle cx="578.1" cy="1076.5" r="3.2"/></g>
<rect x="95.4" y="961.8" width="529" height="62.6" rx="3" ry="3" fill="#fff" fill-opacity="0.8" stroke="#d8d8d8" stroke-width="1"/>
<line x1="99.6" y1="972.6" x2="128" y2="972.6" stroke="#222222" stroke-width="2.0"/>
<circle cx="113.7" cy="972.6" r="2.6" fill="#222222"/>
<circle cx="113.9" cy="992.2" r="3.3" fill="#1474bc"/>
<circle cx="113.9" cy="1012.1" r="3.3" fill="#8c564b"/>
<circle cx="281.2" cy="972.6" r="3.3" fill="#2ca02c"/>
<circle cx="281.2" cy="992.2" r="3.3" fill="#dc2438"/>
<circle cx="281.2" cy="1012.1" r="3.3" fill="#8d68c4"/>
<circle cx="473" cy="972.6" r="3.3" fill="#e377c2"/>
<circle cx="473" cy="992.2" r="3.3" fill="#f97f1c"/>
<g font-family='"Liberation Sans", sans-serif' font-size="15" stroke="#2a2a2a" stroke-width="0.2" fill="#2a2a2a">
<text x="139" y="976.9" textLength="55.2" lengthAdjust="spacingAndGlyphs">Demand</text>
<text x="139" y="996.5" textLength="83.1" lengthAdjust="spacingAndGlyphs">Identical run</text>
<text x="139" y="1016.4" textLength="101" lengthAdjust="spacingAndGlyphs">Global demand</text>
<text x="306.4" y="976.9" textLength="125.2" lengthAdjust="spacingAndGlyphs">Double-sided delta</text>
<text x="306.4" y="996.5" textLength="118.6" lengthAdjust="spacingAndGlyphs">Single-sided delta</text>
<text x="306.4" y="1016.4" textLength="93.2" lengthAdjust="spacingAndGlyphs">Local demand</text>
<text x="498" y="976.9" textLength="106" lengthAdjust="spacingAndGlyphs">Negitive or zero</text>
<text x="498" y="996.5" textLength="121" lengthAdjust="spacingAndGlyphs">Anomalous region</text>
</g>
<rect x="90.4" y="954.9" width="541" height="239.9" fill="none" stroke="#707070" stroke-width="1.15"/>
<g stroke="#333" stroke-width="1.1">
<line x1="137.6" y1="1194.8" x2="137.6" y2="1197.8"/>
<line x1="186.82" y1="1194.8" x2="186.82" y2="1197.8"/>
<line x1="236.04" y1="1194.8" x2="236.04" y2="1197.8"/>
<line x1="285.26" y1="1194.8" x2="285.26" y2="1197.8"/>
<line x1="334.48" y1="1194.8" x2="334.48" y2="1197.8"/>
<line x1="383.7" y1="1194.8" x2="383.7" y2="1197.8"/>
<line x1="432.92" y1="1194.8" x2="432.92" y2="1197.8"/>
<line x1="482.14" y1="1194.8" x2="482.14" y2="1197.8"/>
<line x1="531.36" y1="1194.8" x2="531.36" y2="1197.8"/>
<line x1="580.58" y1="1194.8" x2="580.58" y2="1197.8"/>
<line x1="629.8" y1="1194.8" x2="629.8" y2="1197.8"/>
<line x1="87.4" y1="1187.4" x2="90.4" y2="1187.4"/>
<line x1="87.4" y1="1146.05" x2="90.4" y2="1146.05"/>
<line x1="87.4" y1="1104.7" x2="90.4" y2="1104.7"/>
<line x1="87.4" y1="1063.35" x2="90.4" y2="1063.35"/>
<line x1="87.4" y1="1022" x2="90.4" y2="1022"/>
<line x1="87.4" y1="980.65" x2="90.4" y2="980.65"/>
</g>
<g font-family='"Liberation Sans", sans-serif' font-size="15" stroke="#2a2a2a" stroke-width="0.2" fill="#2a2a2a">
<text x="85.3" y="1192.7" text-anchor="end" textLength="8.55" lengthAdjust="spacingAndGlyphs">0</text>
<text x="85.3" y="1151.35" text-anchor="end" textLength="25.64" lengthAdjust="spacingAndGlyphs">500</text>
<text x="85.3" y="1110" text-anchor="end" textLength="38.47" lengthAdjust="spacingAndGlyphs">1,000</text>
<text x="85.3" y="1068.65" text-anchor="end" textLength="38.47" lengthAdjust="spacingAndGlyphs">1,500</text>
<text x="85.3" y="1027.3" text-anchor="end" textLength="38.47" lengthAdjust="spacingAndGlyphs">2,000</text>
<text x="85.3" y="985.95" text-anchor="end" textLength="38.47" lengthAdjust="spacingAndGlyphs">2,500</text>
<text transform="translate(173.4,1209.4) rotate(-30)" text-anchor="end" textLength="79.09" lengthAdjust="spacingAndGlyphs">2016-12-11</text>
<text transform="translate(222.62,1209.4) rotate(-30)" text-anchor="end" textLength="79.09" lengthAdjust="spacingAndGlyphs">2016-12-12</text>
<text transform="translate(271.84,1209.4) rotate(-30)" text-anchor="end" textLength="79.09" lengthAdjust="spacingAndGlyphs">2016-12-13</text>
<text transform="translate(321.06,1209.4) rotate(-30)" text-anchor="end" textLength="79.09" lengthAdjust="spacingAndGlyphs">2016-12-14</text>
<text transform="translate(370.28,1209.4) rotate(-30)" text-anchor="end" textLength="79.09" lengthAdjust="spacingAndGlyphs">2016-12-15</text>
<text transform="translate(419.5,1209.4) rotate(-30)" text-anchor="end" textLength="79.09" lengthAdjust="spacingAndGlyphs">2016-12-16</text>
<text transform="translate(468.72,1209.4) rotate(-30)" text-anchor="end" textLength="79.09" lengthAdjust="spacingAndGlyphs">2016-12-17</text>
<text transform="translate(517.94,1209.4) rotate(-30)" text-anchor="end" textLength="79.09" lengthAdjust="spacingAndGlyphs">2016-12-18</text>
<text transform="translate(567.16,1209.4) rotate(-30)" text-anchor="end" textLength="79.09" lengthAdjust="spacingAndGlyphs">2016-12-19</text>
<text transform="translate(616.38,1209.4) rotate(-30)" text-anchor="end" textLength="79.09" lengthAdjust="spacingAndGlyphs">2016-12-20</text>
<text transform="translate(665.6,1209.4) rotate(-30)" text-anchor="end" textLength="79.09" lengthAdjust="spacingAndGlyphs">2016-12-21</text>
</g>
<text transform="translate(40.6,1074.85) rotate(-90)" text-anchor="middle" font-family='"Liberation Sans", sans-serif' font-size="15" stroke="#2a2a2a" stroke-width="0.2" fill="#2a2a2a" textLength="96.6" lengthAdjust="spacingAndGlyphs">Demand (MW)</text>
<text x="0" y="969" font-family='"Liberation Sans", sans-serif' font-size="23" fill="#111" stroke="#111" stroke-width="0.15" textLength="28.2" lengthAdjust="spacingAndGlyphs">(d)</text>
</svg>
</body></html>
